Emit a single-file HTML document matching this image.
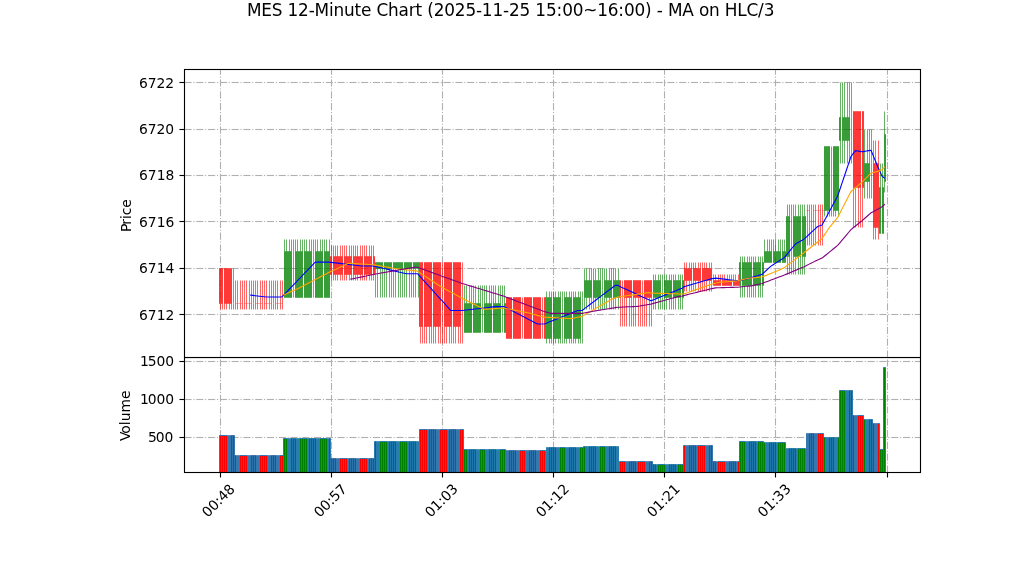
<!DOCTYPE html>
<html lang="en">
<head>
<meta charset="utf-8">
<title>MES 12-Minute Chart</title>
<style>html,body{margin:0;padding:0;background:#fff;}body{width:1022px;height:575px;overflow:hidden;font-family:"DejaVu Sans","Liberation Sans",sans-serif;}svg text{white-space:pre;}</style>
</head>
<body>
<svg width="1022" height="575" viewBox="0 0 1022 575" style="display:block">
<defs><clipPath id="c2"><rect x="184" y="357" width="736" height="115"/></clipPath><clipPath id="c1"><rect x="184" y="69" width="736" height="288"/></clipPath></defs>
<g id="volume-panel">
<path clip-path="url(#c2)" d="M220.5 472.5V357.5M331.5 472.5V357.5M442.5 472.5V357.5M553.5 472.5V357.5M664.5 472.5V357.5M775.5 472.5V357.5M887.5 472.5V357.5M184.5 437.5H920.5M184.5 399.5H920.5M184.5 361.5H920.5" fill="none" stroke="#b0b0b0" stroke-width="1.111" stroke-dasharray="7.111,1.778,1.111,1.778"/><path clip-path="url(#c2)" d="M184.5 436.5H920.5M184.5 438.5H920.5M184.5 398.5H920.5M184.5 400.5H920.5M184.5 360.5H920.5M184.5 362.5H920.5" fill="none" stroke="#b0b0b0" stroke-opacity="0.056" stroke-width="1" stroke-dasharray="7.111,1.778,1.111,1.778"/>
<g clip-path="url(#c2)" stroke="#1f77b4" stroke-width="0.903" stroke-linejoin="miter">
<path d="M219.5 475.5H221.5V435.5H219.5Z" fill="#f00"/><path d="M221.5 475.5H223.5V435.5H221.5Z" fill="#f00"/><path d="M223.5 475.5H225.5V435.5H223.5Z" fill="#f00"/><path d="M225.5 475.5H227.5V435.5H225.5Z" fill="#f00"/><path d="M228.5 475.5H229.5V435.5H228.5Z" fill="#f00"/><path d="M230.5 475.5H232.5V435.5H230.5Z" fill="#f00"/><path d="M232.5 475.5H234.5V435.5H232.5Z" fill="#f00"/><path d="M234.5 475.5H236.5V455.5H234.5Z" fill="#f00"/><path d="M237.5 475.5H238.5V455.5H237.5Z" fill="#f00"/><path d="M239.5 475.5H241.5V455.5H239.5Z" fill="#f00"/><path d="M241.5 475.5H243.5V455.5H241.5Z" fill="#f00"/><path d="M243.5 475.5H245.5V455.5H243.5Z" fill="#f00"/><path d="M245.5 475.5H247.5V455.5H245.5Z" fill="#f00"/><path d="M248.5 475.5H249.5V455.5H248.5Z" fill="#f00"/><path d="M250.5 475.5H252.5V455.5H250.5Z" fill="#f00"/><path d="M252.5 475.5H254.5V455.5H252.5Z" fill="#f00"/><path d="M254.5 475.5H256.5V455.5H254.5Z" fill="#f00"/><path d="M257.5 475.5H258.5V455.5H257.5Z" fill="#f00"/><path d="M259.5 475.5H261.5V455.5H259.5Z" fill="#f00"/><path d="M261.5 475.5H263.5V455.5H261.5Z" fill="#f00"/><path d="M263.5 475.5H265.5V455.5H263.5Z" fill="#f00"/><path d="M265.5 475.5H267.5V455.5H265.5Z" fill="#f00"/><path d="M268.5 475.5H269.5V455.5H268.5Z" fill="#f00"/><path d="M270.5 475.5H272.5V455.5H270.5Z" fill="#f00"/><path d="M272.5 475.5H274.5V455.5H272.5Z" fill="#f00"/><path d="M274.5 475.5H276.5V455.5H274.5Z" fill="#f00"/><path d="M277.5 475.5H278.5V455.5H277.5Z" fill="#f00"/><path d="M279.5 475.5H281.5V455.5H279.5Z" fill="#f00"/><path d="M281.5 475.5H283.5V455.5H281.5Z" fill="#f00"/><path d="M283.5 475.5H285.5V438.5H283.5Z" fill="#008000"/><path d="M285.5 475.5H287.5V438.5H285.5Z" fill="#008000"/><path d="M288.5 475.5H289.5V438.5H288.5Z" fill="#008000"/><path d="M290.5 475.5H292.5V438.5H290.5Z" fill="#008000"/><path d="M292.5 475.5H294.5V438.5H292.5Z" fill="#008000"/><path d="M294.5 475.5H296.5V438.5H294.5Z" fill="#008000"/><path d="M297.5 475.5H298.5V438.5H297.5Z" fill="#008000"/><path d="M299.5 475.5H301.5V438.5H299.5Z" fill="#008000"/><path d="M301.5 475.5H303.5V438.5H301.5Z" fill="#008000"/><path d="M303.5 475.5H305.5V438.5H303.5Z" fill="#008000"/><path d="M305.5 475.5H307.5V438.5H305.5Z" fill="#008000"/><path d="M308.5 475.5H310.5V438.5H308.5Z" fill="#008000"/><path d="M310.5 475.5H312.5V438.5H310.5Z" fill="#008000"/><path d="M312.5 475.5H314.5V438.5H312.5Z" fill="#008000"/><path d="M314.5 475.5H316.5V438.5H314.5Z" fill="#008000"/><path d="M317.5 475.5H318.5V438.5H317.5Z" fill="#008000"/><path d="M319.5 475.5H321.5V438.5H319.5Z" fill="#008000"/><path d="M321.5 475.5H323.5V438.5H321.5Z" fill="#008000"/><path d="M323.5 475.5H325.5V438.5H323.5Z" fill="#008000"/><path d="M325.5 475.5H327.5V438.5H325.5Z" fill="#008000"/><path d="M328.5 475.5H330.5V438.5H328.5Z" fill="#008000"/><path d="M330.5 475.5H332.5V458.5H330.5Z" fill="#f00"/><path d="M332.5 475.5H334.5V458.5H332.5Z" fill="#f00"/><path d="M334.5 475.5H336.5V458.5H334.5Z" fill="#f00"/><path d="M337.5 475.5H338.5V458.5H337.5Z" fill="#f00"/><path d="M339.5 475.5H341.5V458.5H339.5Z" fill="#f00"/><path d="M341.5 475.5H343.5V458.5H341.5Z" fill="#f00"/><path d="M343.5 475.5H345.5V458.5H343.5Z" fill="#f00"/><path d="M345.5 475.5H347.5V458.5H345.5Z" fill="#f00"/><path d="M348.5 475.5H350.5V458.5H348.5Z" fill="#f00"/><path d="M350.5 475.5H352.5V458.5H350.5Z" fill="#f00"/><path d="M352.5 475.5H354.5V458.5H352.5Z" fill="#f00"/><path d="M354.5 475.5H356.5V458.5H354.5Z" fill="#f00"/><path d="M357.5 475.5H358.5V458.5H357.5Z" fill="#f00"/><path d="M359.5 475.5H361.5V458.5H359.5Z" fill="#f00"/><path d="M361.5 475.5H363.5V458.5H361.5Z" fill="#f00"/><path d="M363.5 475.5H365.5V458.5H363.5Z" fill="#f00"/><path d="M365.5 475.5H367.5V458.5H365.5Z" fill="#f00"/><path d="M368.5 475.5H370.5V458.5H368.5Z" fill="#f00"/><path d="M370.5 475.5H372.5V458.5H370.5Z" fill="#f00"/><path d="M372.5 475.5H374.5V458.5H372.5Z" fill="#f00"/><path d="M374.5 475.5H376.5V441.5H374.5Z" fill="#008000"/><path d="M377.5 475.5H378.5V441.5H377.5Z" fill="#008000"/><path d="M379.5 475.5H381.5V441.5H379.5Z" fill="#008000"/><path d="M381.5 475.5H383.5V441.5H381.5Z" fill="#008000"/><path d="M383.5 475.5H385.5V441.5H383.5Z" fill="#008000"/><path d="M385.5 475.5H387.5V441.5H385.5Z" fill="#008000"/><path d="M388.5 475.5H390.5V441.5H388.5Z" fill="#008000"/><path d="M390.5 475.5H392.5V441.5H390.5Z" fill="#008000"/><path d="M392.5 475.5H394.5V441.5H392.5Z" fill="#008000"/><path d="M394.5 475.5H396.5V441.5H394.5Z" fill="#008000"/><path d="M397.5 475.5H398.5V441.5H397.5Z" fill="#008000"/><path d="M399.5 475.5H401.5V441.5H399.5Z" fill="#008000"/><path d="M401.5 475.5H403.5V441.5H401.5Z" fill="#008000"/><path d="M403.5 475.5H405.5V441.5H403.5Z" fill="#008000"/><path d="M405.5 475.5H407.5V441.5H405.5Z" fill="#008000"/><path d="M408.5 475.5H410.5V441.5H408.5Z" fill="#008000"/><path d="M410.5 475.5H412.5V441.5H410.5Z" fill="#008000"/><path d="M412.5 475.5H414.5V441.5H412.5Z" fill="#008000"/><path d="M414.5 475.5H416.5V441.5H414.5Z" fill="#008000"/><path d="M417.5 475.5H418.5V441.5H417.5Z" fill="#008000"/><path d="M419.5 475.5H421.5V429.5H419.5Z" fill="#f00"/><path d="M421.5 475.5H423.5V429.5H421.5Z" fill="#f00"/><path d="M423.5 475.5H425.5V429.5H423.5Z" fill="#f00"/><path d="M425.5 475.5H427.5V429.5H425.5Z" fill="#f00"/><path d="M428.5 475.5H430.5V429.5H428.5Z" fill="#f00"/><path d="M430.5 475.5H432.5V429.5H430.5Z" fill="#f00"/><path d="M432.5 475.5H434.5V429.5H432.5Z" fill="#f00"/><path d="M434.5 475.5H436.5V429.5H434.5Z" fill="#f00"/><path d="M437.5 475.5H438.5V429.5H437.5Z" fill="#f00"/><path d="M439.5 475.5H441.5V429.5H439.5Z" fill="#f00"/><path d="M441.5 475.5H443.5V429.5H441.5Z" fill="#f00"/><path d="M443.5 475.5H445.5V429.5H443.5Z" fill="#f00"/><path d="M445.5 475.5H447.5V429.5H445.5Z" fill="#f00"/><path d="M448.5 475.5H450.5V429.5H448.5Z" fill="#f00"/><path d="M450.5 475.5H452.5V429.5H450.5Z" fill="#f00"/><path d="M452.5 475.5H454.5V429.5H452.5Z" fill="#f00"/><path d="M454.5 475.5H456.5V429.5H454.5Z" fill="#f00"/><path d="M457.5 475.5H458.5V429.5H457.5Z" fill="#f00"/><path d="M459.5 475.5H461.5V429.5H459.5Z" fill="#f00"/><path d="M461.5 475.5H463.5V429.5H461.5Z" fill="#f00"/><path d="M463.5 475.5H465.5V449.5H463.5Z" fill="#008000"/><path d="M465.5 475.5H467.5V449.5H465.5Z" fill="#008000"/><path d="M468.5 475.5H470.5V449.5H468.5Z" fill="#008000"/><path d="M470.5 475.5H472.5V449.5H470.5Z" fill="#008000"/><path d="M472.5 475.5H474.5V449.5H472.5Z" fill="#008000"/><path d="M474.5 475.5H476.5V449.5H474.5Z" fill="#008000"/><path d="M477.5 475.5H478.5V449.5H477.5Z" fill="#008000"/><path d="M479.5 475.5H481.5V449.5H479.5Z" fill="#008000"/><path d="M481.5 475.5H483.5V449.5H481.5Z" fill="#008000"/><path d="M483.5 475.5H485.5V449.5H483.5Z" fill="#008000"/><path d="M486.5 475.5H487.5V449.5H486.5Z" fill="#008000"/><path d="M488.5 475.5H490.5V449.5H488.5Z" fill="#008000"/><path d="M490.5 475.5H492.5V449.5H490.5Z" fill="#008000"/><path d="M492.5 475.5H494.5V449.5H492.5Z" fill="#008000"/><path d="M494.5 475.5H496.5V449.5H494.5Z" fill="#008000"/><path d="M497.5 475.5H498.5V449.5H497.5Z" fill="#008000"/><path d="M499.5 475.5H501.5V449.5H499.5Z" fill="#008000"/><path d="M501.5 475.5H503.5V449.5H501.5Z" fill="#008000"/><path d="M503.5 475.5H505.5V449.5H503.5Z" fill="#008000"/><path d="M506.5 475.5H507.5V450.5H506.5Z" fill="#f00"/><path d="M508.5 475.5H510.5V450.5H508.5Z" fill="#f00"/><path d="M510.5 475.5H512.5V450.5H510.5Z" fill="#f00"/><path d="M512.5 475.5H514.5V450.5H512.5Z" fill="#f00"/><path d="M514.5 475.5H516.5V450.5H514.5Z" fill="#f00"/><path d="M517.5 475.5H518.5V450.5H517.5Z" fill="#f00"/><path d="M519.5 475.5H521.5V450.5H519.5Z" fill="#f00"/><path d="M521.5 475.5H523.5V450.5H521.5Z" fill="#f00"/><path d="M523.5 475.5H525.5V450.5H523.5Z" fill="#f00"/><path d="M526.5 475.5H527.5V450.5H526.5Z" fill="#f00"/><path d="M528.5 475.5H530.5V450.5H528.5Z" fill="#f00"/><path d="M530.5 475.5H532.5V450.5H530.5Z" fill="#f00"/><path d="M532.5 475.5H534.5V450.5H532.5Z" fill="#f00"/><path d="M534.5 475.5H536.5V450.5H534.5Z" fill="#f00"/><path d="M537.5 475.5H538.5V450.5H537.5Z" fill="#f00"/><path d="M539.5 475.5H541.5V450.5H539.5Z" fill="#f00"/><path d="M541.5 475.5H543.5V450.5H541.5Z" fill="#f00"/><path d="M543.5 475.5H545.5V450.5H543.5Z" fill="#f00"/><path d="M546.5 475.5H547.5V447.5H546.5Z" fill="#008000"/><path d="M548.5 475.5H550.5V447.5H548.5Z" fill="#008000"/><path d="M550.5 475.5H552.5V447.5H550.5Z" fill="#008000"/><path d="M552.5 475.5H554.5V447.5H552.5Z" fill="#008000"/><path d="M554.5 475.5H556.5V447.5H554.5Z" fill="#008000"/><path d="M557.5 475.5H558.5V447.5H557.5Z" fill="#008000"/><path d="M559.5 475.5H561.5V447.5H559.5Z" fill="#008000"/><path d="M561.5 475.5H563.5V447.5H561.5Z" fill="#008000"/><path d="M563.5 475.5H565.5V447.5H563.5Z" fill="#008000"/><path d="M566.5 475.5H567.5V447.5H566.5Z" fill="#008000"/><path d="M568.5 475.5H570.5V447.5H568.5Z" fill="#008000"/><path d="M570.5 475.5H572.5V447.5H570.5Z" fill="#008000"/><path d="M572.5 475.5H574.5V447.5H572.5Z" fill="#008000"/><path d="M574.5 475.5H576.5V447.5H574.5Z" fill="#008000"/><path d="M577.5 475.5H578.5V447.5H577.5Z" fill="#008000"/><path d="M579.5 475.5H581.5V447.5H579.5Z" fill="#008000"/><path d="M581.5 475.5H583.5V447.5H581.5Z" fill="#008000"/><path d="M583.5 475.5H585.5V446.5H583.5Z" fill="#008000"/><path d="M586.5 475.5H587.5V446.5H586.5Z" fill="#008000"/><path d="M588.5 475.5H590.5V446.5H588.5Z" fill="#008000"/><path d="M590.5 475.5H592.5V446.5H590.5Z" fill="#008000"/><path d="M592.5 475.5H594.5V446.5H592.5Z" fill="#008000"/><path d="M594.5 475.5H596.5V446.5H594.5Z" fill="#008000"/><path d="M597.5 475.5H598.5V446.5H597.5Z" fill="#008000"/><path d="M599.5 475.5H601.5V446.5H599.5Z" fill="#008000"/><path d="M601.5 475.5H603.5V446.5H601.5Z" fill="#008000"/><path d="M603.5 475.5H605.5V446.5H603.5Z" fill="#008000"/><path d="M606.5 475.5H607.5V446.5H606.5Z" fill="#008000"/><path d="M608.5 475.5H610.5V446.5H608.5Z" fill="#008000"/><path d="M610.5 475.5H612.5V446.5H610.5Z" fill="#008000"/><path d="M612.5 475.5H614.5V446.5H612.5Z" fill="#008000"/><path d="M614.5 475.5H616.5V446.5H614.5Z" fill="#008000"/><path d="M617.5 475.5H618.5V446.5H617.5Z" fill="#008000"/><path d="M619.5 475.5H621.5V461.5H619.5Z" fill="#f00"/><path d="M621.5 475.5H623.5V461.5H621.5Z" fill="#f00"/><path d="M623.5 475.5H625.5V461.5H623.5Z" fill="#f00"/><path d="M626.5 475.5H627.5V461.5H626.5Z" fill="#f00"/><path d="M628.5 475.5H630.5V461.5H628.5Z" fill="#f00"/><path d="M630.5 475.5H632.5V461.5H630.5Z" fill="#f00"/><path d="M632.5 475.5H634.5V461.5H632.5Z" fill="#f00"/><path d="M634.5 475.5H636.5V461.5H634.5Z" fill="#f00"/><path d="M637.5 475.5H639.5V461.5H637.5Z" fill="#f00"/><path d="M639.5 475.5H641.5V461.5H639.5Z" fill="#f00"/><path d="M641.5 475.5H643.5V461.5H641.5Z" fill="#f00"/><path d="M643.5 475.5H645.5V461.5H643.5Z" fill="#f00"/><path d="M646.5 475.5H647.5V461.5H646.5Z" fill="#f00"/><path d="M648.5 475.5H650.5V461.5H648.5Z" fill="#f00"/><path d="M650.5 475.5H652.5V461.5H650.5Z" fill="#f00"/><path d="M652.5 475.5H654.5V464.5H652.5Z" fill="#008000"/><path d="M654.5 475.5H656.5V464.5H654.5Z" fill="#008000"/><path d="M657.5 475.5H659.5V464.5H657.5Z" fill="#008000"/><path d="M659.5 475.5H661.5V464.5H659.5Z" fill="#008000"/><path d="M661.5 475.5H663.5V464.5H661.5Z" fill="#008000"/><path d="M663.5 475.5H665.5V464.5H663.5Z" fill="#008000"/><path d="M666.5 475.5H667.5V464.5H666.5Z" fill="#008000"/><path d="M668.5 475.5H670.5V464.5H668.5Z" fill="#008000"/><path d="M670.5 475.5H672.5V464.5H670.5Z" fill="#008000"/><path d="M672.5 475.5H674.5V464.5H672.5Z" fill="#008000"/><path d="M674.5 475.5H676.5V464.5H674.5Z" fill="#008000"/><path d="M677.5 475.5H679.5V464.5H677.5Z" fill="#008000"/><path d="M679.5 475.5H681.5V464.5H679.5Z" fill="#008000"/><path d="M681.5 475.5H683.5V464.5H681.5Z" fill="#008000"/><path d="M683.5 475.5H685.5V445.5H683.5Z" fill="#f00"/><path d="M686.5 475.5H687.5V445.5H686.5Z" fill="#f00"/><path d="M688.5 475.5H690.5V445.5H688.5Z" fill="#f00"/><path d="M690.5 475.5H692.5V445.5H690.5Z" fill="#f00"/><path d="M692.5 475.5H694.5V445.5H692.5Z" fill="#f00"/><path d="M694.5 475.5H696.5V445.5H694.5Z" fill="#f00"/><path d="M697.5 475.5H699.5V445.5H697.5Z" fill="#f00"/><path d="M699.5 475.5H701.5V445.5H699.5Z" fill="#f00"/><path d="M701.5 475.5H703.5V445.5H701.5Z" fill="#f00"/><path d="M703.5 475.5H705.5V445.5H703.5Z" fill="#f00"/><path d="M706.5 475.5H707.5V445.5H706.5Z" fill="#f00"/><path d="M708.5 475.5H710.5V445.5H708.5Z" fill="#f00"/><path d="M710.5 475.5H712.5V445.5H710.5Z" fill="#f00"/><path d="M712.5 475.5H714.5V461.5H712.5Z" fill="#f00"/><path d="M714.5 475.5H716.5V461.5H714.5Z" fill="#f00"/><path d="M717.5 475.5H719.5V461.5H717.5Z" fill="#f00"/><path d="M719.5 475.5H721.5V461.5H719.5Z" fill="#f00"/><path d="M721.5 475.5H723.5V461.5H721.5Z" fill="#f00"/><path d="M723.5 475.5H725.5V461.5H723.5Z" fill="#f00"/><path d="M726.5 475.5H727.5V461.5H726.5Z" fill="#f00"/><path d="M728.5 475.5H730.5V461.5H728.5Z" fill="#f00"/><path d="M730.5 475.5H732.5V461.5H730.5Z" fill="#f00"/><path d="M732.5 475.5H734.5V461.5H732.5Z" fill="#f00"/><path d="M734.5 475.5H736.5V461.5H734.5Z" fill="#f00"/><path d="M737.5 475.5H739.5V461.5H737.5Z" fill="#f00"/><path d="M739.5 475.5H741.5V441.5H739.5Z" fill="#008000"/><path d="M741.5 475.5H743.5V441.5H741.5Z" fill="#008000"/><path d="M743.5 475.5H745.5V441.5H743.5Z" fill="#008000"/><path d="M746.5 475.5H747.5V441.5H746.5Z" fill="#008000"/><path d="M748.5 475.5H750.5V441.5H748.5Z" fill="#008000"/><path d="M750.5 475.5H752.5V441.5H750.5Z" fill="#008000"/><path d="M752.5 475.5H754.5V441.5H752.5Z" fill="#008000"/><path d="M754.5 475.5H756.5V441.5H754.5Z" fill="#008000"/><path d="M757.5 475.5H759.5V441.5H757.5Z" fill="#008000"/><path d="M759.5 475.5H761.5V441.5H759.5Z" fill="#008000"/><path d="M761.5 475.5H763.5V441.5H761.5Z" fill="#008000"/><path d="M763.5 475.5H765.5V442.5H763.5Z" fill="#008000"/><path d="M766.5 475.5H767.5V442.5H766.5Z" fill="#008000"/><path d="M768.5 475.5H770.5V442.5H768.5Z" fill="#008000"/><path d="M770.5 475.5H772.5V442.5H770.5Z" fill="#008000"/><path d="M772.5 475.5H774.5V442.5H772.5Z" fill="#008000"/><path d="M774.5 475.5H776.5V442.5H774.5Z" fill="#008000"/><path d="M777.5 475.5H779.5V442.5H777.5Z" fill="#008000"/><path d="M779.5 475.5H781.5V442.5H779.5Z" fill="#008000"/><path d="M781.5 475.5H783.5V442.5H781.5Z" fill="#008000"/><path d="M783.5 475.5H785.5V442.5H783.5Z" fill="#008000"/><path d="M786.5 475.5H787.5V448.5H786.5Z" fill="#008000"/><path d="M788.5 475.5H790.5V448.5H788.5Z" fill="#008000"/><path d="M790.5 475.5H792.5V448.5H790.5Z" fill="#008000"/><path d="M792.5 475.5H794.5V448.5H792.5Z" fill="#008000"/><path d="M794.5 475.5H796.5V448.5H794.5Z" fill="#008000"/><path d="M797.5 475.5H799.5V448.5H797.5Z" fill="#008000"/><path d="M799.5 475.5H801.5V448.5H799.5Z" fill="#008000"/><path d="M801.5 475.5H803.5V448.5H801.5Z" fill="#008000"/><path d="M803.5 475.5H805.5V448.5H803.5Z" fill="#008000"/><path d="M806.5 475.5H807.5V433.5H806.5Z" fill="#f00"/><path d="M808.5 475.5H810.5V433.5H808.5Z" fill="#f00"/><path d="M810.5 475.5H812.5V433.5H810.5Z" fill="#f00"/><path d="M812.5 475.5H814.5V433.5H812.5Z" fill="#f00"/><path d="M815.5 475.5H816.5V433.5H815.5Z" fill="#f00"/><path d="M817.5 475.5H819.5V433.5H817.5Z" fill="#f00"/><path d="M819.5 475.5H821.5V433.5H819.5Z" fill="#f00"/><path d="M821.5 475.5H823.5V433.5H821.5Z" fill="#f00"/><path d="M823.5 475.5H825.5V437.5H823.5Z" fill="#008000"/><path d="M826.5 475.5H827.5V437.5H826.5Z" fill="#008000"/><path d="M828.5 475.5H830.5V437.5H828.5Z" fill="#008000"/><path d="M830.5 475.5H832.5V437.5H830.5Z" fill="#008000"/><path d="M832.5 475.5H834.5V437.5H832.5Z" fill="#008000"/><path d="M835.5 475.5H836.5V437.5H835.5Z" fill="#008000"/><path d="M837.5 475.5H839.5V437.5H837.5Z" fill="#008000"/><path d="M839.5 475.5H841.5V390.5H839.5Z" fill="#008000"/><path d="M841.5 475.5H843.5V390.5H841.5Z" fill="#008000"/><path d="M843.5 475.5H845.5V390.5H843.5Z" fill="#008000"/><path d="M846.5 475.5H847.5V390.5H846.5Z" fill="#008000"/><path d="M848.5 475.5H850.5V390.5H848.5Z" fill="#008000"/><path d="M850.5 475.5H852.5V390.5H850.5Z" fill="#008000"/><path d="M852.5 475.5H854.5V415.5H852.5Z" fill="#f00"/><path d="M855.5 475.5H856.5V415.5H855.5Z" fill="#f00"/><path d="M857.5 475.5H859.5V415.5H857.5Z" fill="#f00"/><path d="M859.5 475.5H861.5V415.5H859.5Z" fill="#f00"/><path d="M861.5 475.5H863.5V415.5H861.5Z" fill="#f00"/><path d="M863.5 475.5H865.5V419.5H863.5Z" fill="#008000"/><path d="M866.5 475.5H867.5V419.5H866.5Z" fill="#008000"/><path d="M868.5 475.5H870.5V419.5H868.5Z" fill="#008000"/><path d="M870.5 475.5H872.5V419.5H870.5Z" fill="#008000"/><path d="M872.5 475.5H874.5V423.5H872.5Z" fill="#f00"/><path d="M875.5 475.5H876.5V423.5H875.5Z" fill="#f00"/><path d="M877.5 475.5H879.5V423.5H877.5Z" fill="#f00"/><path d="M879.5 475.5H881.5V449.5H879.5Z" fill="#008000"/><path d="M881.5 475.5H883.5V449.5H881.5Z" fill="#008000"/><path d="M883.5 475.5H885.5V367.5H883.5Z" fill="#008000"/>
</g>
<path d="M220.5 472.5V477.5M331.5 472.5V477.5M442.5 472.5V477.5M553.5 472.5V477.5M664.5 472.5V477.5M775.5 472.5V477.5M887.5 472.5V477.5M184.5 437.5H179.5M184.5 399.5H179.5M184.5 361.5H179.5" fill="none" stroke="#000" stroke-width="1.111"/><path d="M184.5 436.5H179.5M184.5 438.5H179.5M184.5 398.5H179.5M184.5 400.5H179.5M184.5 360.5H179.5M184.5 362.5H179.5" fill="none" stroke="#000" stroke-opacity="0.056" stroke-width="1"/>
<path d="M184.5 472.5V357.5M920.5 472.5V357.5M184.5 472.5H920.5M184.5 357.5H920.5" fill="none" stroke="#000" stroke-width="1.111" stroke-linecap="square"/><path d="M183.944 471.5H921.056M183.944 473.5H921.056M183.944 358.5H921.056" fill="none" stroke="#000" stroke-opacity="0.056" stroke-width="1"/>
</g>
<g id="price-panel">
<path clip-path="url(#c1)" d="M220.5 357.5V69.5M331.5 357.5V69.5M442.5 357.5V69.5M553.5 357.5V69.5M664.5 357.5V69.5M775.5 357.5V69.5M887.5 357.5V69.5M184.5 314.5H920.5M184.5 268.5H920.5M184.5 221.5H920.5M184.5 175.5H920.5M184.5 129.5H920.5M184.5 82.5H920.5" fill="none" stroke="#b0b0b0" stroke-width="1.111" stroke-dasharray="7.111,1.778,1.111,1.778"/><path clip-path="url(#c1)" d="M184.5 313.5H920.5M184.5 315.5H920.5M184.5 267.5H920.5M184.5 269.5H920.5M184.5 220.5H920.5M184.5 222.5H920.5M184.5 174.5H920.5M184.5 176.5H920.5M184.5 128.5H920.5M184.5 130.5H920.5M184.5 81.5H920.5M184.5 83.5H920.5" fill="none" stroke="#b0b0b0" stroke-opacity="0.056" stroke-width="1" stroke-dasharray="7.111,1.778,1.111,1.778"/>
<g clip-path="url(#c1)">
<g fill="none" stroke-width="0.604">
<path d="M220.5 309.5V303.5" stroke="#f00"/>
<path d="M222.5 309.5V303.5" stroke="#f00"/>
<path d="M224.5 309.5V303.5" stroke="#f00"/>
<path d="M226.5 309.5V303.5" stroke="#f00"/>
<path d="M229.5 309.5V303.5" stroke="#f00"/>
<path d="M231.5 309.5V303.5" stroke="#f00"/>
<path d="M233.5 309.5V303.5" stroke="#f00"/>
<path d="M235.5 309.5V303.5" stroke="#f00"/>
<path d="M237.5 309.5V303.5" stroke="#f00"/>
<path d="M240.5 309.5V303.5" stroke="#f00"/>
<path d="M242.5 309.5V303.5" stroke="#f00"/>
<path d="M244.5 309.5V303.5" stroke="#f00"/>
<path d="M246.5 309.5V303.5" stroke="#f00"/>
<path d="M249.5 309.5V303.5" stroke="#f00"/>
<path d="M251.5 309.5V303.5" stroke="#f00"/>
<path d="M253.5 309.5V303.5" stroke="#f00"/>
<path d="M255.5 309.5V303.5" stroke="#f00"/>
<path d="M257.5 309.5V303.5" stroke="#f00"/>
<path d="M260.5 309.5V303.5" stroke="#f00"/>
<path d="M262.5 309.5V303.5" stroke="#f00"/>
<path d="M264.5 309.5V303.5" stroke="#f00"/>
<path d="M266.5 309.5V303.5" stroke="#f00"/>
<path d="M269.5 309.5V303.5" stroke="#f00"/>
<path d="M271.5 309.5V303.5" stroke="#f00"/>
<path d="M273.5 309.5V303.5" stroke="#f00"/>
<path d="M275.5 309.5V303.5" stroke="#f00"/>
<path d="M277.5 309.5V303.5" stroke="#f00"/>
<path d="M280.5 309.5V303.5" stroke="#f00"/>
<path d="M282.5 309.5V303.5" stroke="#f00"/>
<path d="M331.5 280.5V274.5" stroke="#f00"/>
<path d="M333.5 280.5V274.5" stroke="#f00"/>
<path d="M335.5 280.5V274.5" stroke="#f00"/>
<path d="M337.5 280.5V274.5" stroke="#f00"/>
<path d="M340.5 280.5V274.5" stroke="#f00"/>
<path d="M342.5 280.5V274.5" stroke="#f00"/>
<path d="M344.5 280.5V274.5" stroke="#f00"/>
<path d="M346.5 280.5V274.5" stroke="#f00"/>
<path d="M349.5 280.5V274.5" stroke="#f00"/>
<path d="M351.5 280.5V274.5" stroke="#f00"/>
<path d="M353.5 280.5V274.5" stroke="#f00"/>
<path d="M355.5 280.5V274.5" stroke="#f00"/>
<path d="M357.5 280.5V274.5" stroke="#f00"/>
<path d="M360.5 280.5V274.5" stroke="#f00"/>
<path d="M362.5 280.5V274.5" stroke="#f00"/>
<path d="M364.5 280.5V274.5" stroke="#f00"/>
<path d="M366.5 280.5V274.5" stroke="#f00"/>
<path d="M369.5 280.5V274.5" stroke="#f00"/>
<path d="M371.5 280.5V274.5" stroke="#f00"/>
<path d="M373.5 280.5V274.5" stroke="#f00"/>
<path d="M375.5 297.5V268.5" stroke="#008000"/>
<path d="M377.5 297.5V268.5" stroke="#008000"/>
<path d="M380.5 297.5V268.5" stroke="#008000"/>
<path d="M382.5 297.5V268.5" stroke="#008000"/>
<path d="M384.5 297.5V268.5" stroke="#008000"/>
<path d="M386.5 297.5V268.5" stroke="#008000"/>
<path d="M389.5 297.5V268.5" stroke="#008000"/>
<path d="M391.5 297.5V268.5" stroke="#008000"/>
<path d="M393.5 297.5V268.5" stroke="#008000"/>
<path d="M395.5 297.5V268.5" stroke="#008000"/>
<path d="M398.5 297.5V268.5" stroke="#008000"/>
<path d="M400.5 297.5V268.5" stroke="#008000"/>
<path d="M402.5 297.5V268.5" stroke="#008000"/>
<path d="M404.5 297.5V268.5" stroke="#008000"/>
<path d="M406.5 297.5V268.5" stroke="#008000"/>
<path d="M409.5 297.5V268.5" stroke="#008000"/>
<path d="M411.5 297.5V268.5" stroke="#008000"/>
<path d="M413.5 297.5V268.5" stroke="#008000"/>
<path d="M415.5 297.5V268.5" stroke="#008000"/>
<path d="M418.5 297.5V268.5" stroke="#008000"/>
<path d="M420.5 343.5V326.5" stroke="#f00"/>
<path d="M422.5 343.5V326.5" stroke="#f00"/>
<path d="M424.5 343.5V326.5" stroke="#f00"/>
<path d="M426.5 343.5V326.5" stroke="#f00"/>
<path d="M429.5 343.5V326.5" stroke="#f00"/>
<path d="M431.5 343.5V326.5" stroke="#f00"/>
<path d="M433.5 343.5V326.5" stroke="#f00"/>
<path d="M435.5 343.5V326.5" stroke="#f00"/>
<path d="M438.5 343.5V326.5" stroke="#f00"/>
<path d="M440.5 343.5V326.5" stroke="#f00"/>
<path d="M442.5 343.5V326.5" stroke="#f00"/>
<path d="M444.5 343.5V326.5" stroke="#f00"/>
<path d="M446.5 343.5V326.5" stroke="#f00"/>
<path d="M449.5 343.5V326.5" stroke="#f00"/>
<path d="M451.5 343.5V326.5" stroke="#f00"/>
<path d="M453.5 343.5V326.5" stroke="#f00"/>
<path d="M455.5 343.5V326.5" stroke="#f00"/>
<path d="M458.5 343.5V326.5" stroke="#f00"/>
<path d="M460.5 343.5V326.5" stroke="#f00"/>
<path d="M462.5 343.5V326.5" stroke="#f00"/>
<path d="M546.5 343.5V338.5" stroke="#008000"/>
<path d="M549.5 343.5V338.5" stroke="#008000"/>
<path d="M551.5 343.5V338.5" stroke="#008000"/>
<path d="M553.5 343.5V338.5" stroke="#008000"/>
<path d="M555.5 343.5V338.5" stroke="#008000"/>
<path d="M558.5 343.5V338.5" stroke="#008000"/>
<path d="M560.5 343.5V338.5" stroke="#008000"/>
<path d="M562.5 343.5V338.5" stroke="#008000"/>
<path d="M564.5 343.5V338.5" stroke="#008000"/>
<path d="M566.5 343.5V338.5" stroke="#008000"/>
<path d="M569.5 343.5V338.5" stroke="#008000"/>
<path d="M571.5 343.5V338.5" stroke="#008000"/>
<path d="M573.5 343.5V338.5" stroke="#008000"/>
<path d="M575.5 343.5V338.5" stroke="#008000"/>
<path d="M578.5 343.5V338.5" stroke="#008000"/>
<path d="M580.5 343.5V338.5" stroke="#008000"/>
<path d="M582.5 343.5V338.5" stroke="#008000"/>
<path d="M584.5 309.5V297.5" stroke="#008000"/>
<path d="M586.5 309.5V297.5" stroke="#008000"/>
<path d="M589.5 309.5V297.5" stroke="#008000"/>
<path d="M591.5 309.5V297.5" stroke="#008000"/>
<path d="M593.5 309.5V297.5" stroke="#008000"/>
<path d="M595.5 309.5V297.5" stroke="#008000"/>
<path d="M598.5 309.5V297.5" stroke="#008000"/>
<path d="M600.5 309.5V297.5" stroke="#008000"/>
<path d="M602.5 309.5V297.5" stroke="#008000"/>
<path d="M604.5 309.5V297.5" stroke="#008000"/>
<path d="M606.5 309.5V297.5" stroke="#008000"/>
<path d="M609.5 309.5V297.5" stroke="#008000"/>
<path d="M611.5 309.5V297.5" stroke="#008000"/>
<path d="M613.5 309.5V297.5" stroke="#008000"/>
<path d="M615.5 309.5V297.5" stroke="#008000"/>
<path d="M618.5 309.5V297.5" stroke="#008000"/>
<path d="M620.5 326.5V297.5" stroke="#f00"/>
<path d="M622.5 326.5V297.5" stroke="#f00"/>
<path d="M624.5 326.5V297.5" stroke="#f00"/>
<path d="M626.5 326.5V297.5" stroke="#f00"/>
<path d="M629.5 326.5V297.5" stroke="#f00"/>
<path d="M631.5 326.5V297.5" stroke="#f00"/>
<path d="M633.5 326.5V297.5" stroke="#f00"/>
<path d="M635.5 326.5V297.5" stroke="#f00"/>
<path d="M638.5 326.5V297.5" stroke="#f00"/>
<path d="M640.5 326.5V297.5" stroke="#f00"/>
<path d="M642.5 326.5V297.5" stroke="#f00"/>
<path d="M644.5 326.5V297.5" stroke="#f00"/>
<path d="M646.5 326.5V297.5" stroke="#f00"/>
<path d="M649.5 326.5V297.5" stroke="#f00"/>
<path d="M651.5 326.5V297.5" stroke="#f00"/>
<path d="M653.5 309.5V297.5" stroke="#008000"/>
<path d="M655.5 309.5V297.5" stroke="#008000"/>
<path d="M658.5 309.5V297.5" stroke="#008000"/>
<path d="M660.5 309.5V297.5" stroke="#008000"/>
<path d="M662.5 309.5V297.5" stroke="#008000"/>
<path d="M664.5 309.5V297.5" stroke="#008000"/>
<path d="M666.5 309.5V297.5" stroke="#008000"/>
<path d="M669.5 309.5V297.5" stroke="#008000"/>
<path d="M671.5 309.5V297.5" stroke="#008000"/>
<path d="M673.5 309.5V297.5" stroke="#008000"/>
<path d="M675.5 309.5V297.5" stroke="#008000"/>
<path d="M678.5 309.5V297.5" stroke="#008000"/>
<path d="M680.5 309.5V297.5" stroke="#008000"/>
<path d="M682.5 309.5V297.5" stroke="#008000"/>
<path d="M684.5 291.5V280.5" stroke="#f00"/>
<path d="M686.5 291.5V280.5" stroke="#f00"/>
<path d="M689.5 291.5V280.5" stroke="#f00"/>
<path d="M691.5 291.5V280.5" stroke="#f00"/>
<path d="M693.5 291.5V280.5" stroke="#f00"/>
<path d="M695.5 291.5V280.5" stroke="#f00"/>
<path d="M698.5 291.5V280.5" stroke="#f00"/>
<path d="M700.5 291.5V280.5" stroke="#f00"/>
<path d="M702.5 291.5V280.5" stroke="#f00"/>
<path d="M704.5 291.5V280.5" stroke="#f00"/>
<path d="M706.5 291.5V280.5" stroke="#f00"/>
<path d="M709.5 291.5V280.5" stroke="#f00"/>
<path d="M711.5 291.5V280.5" stroke="#f00"/>
<path d="M740.5 297.5V285.5" stroke="#008000"/>
<path d="M742.5 297.5V285.5" stroke="#008000"/>
<path d="M744.5 297.5V285.5" stroke="#008000"/>
<path d="M747.5 297.5V285.5" stroke="#008000"/>
<path d="M749.5 297.5V285.5" stroke="#008000"/>
<path d="M751.5 297.5V285.5" stroke="#008000"/>
<path d="M753.5 297.5V285.5" stroke="#008000"/>
<path d="M755.5 297.5V285.5" stroke="#008000"/>
<path d="M758.5 297.5V285.5" stroke="#008000"/>
<path d="M760.5 297.5V285.5" stroke="#008000"/>
<path d="M762.5 297.5V285.5" stroke="#008000"/>
<path d="M787.5 274.5V256.5" stroke="#008000"/>
<path d="M789.5 274.5V256.5" stroke="#008000"/>
<path d="M791.5 274.5V256.5" stroke="#008000"/>
<path d="M793.5 274.5V256.5" stroke="#008000"/>
<path d="M795.5 274.5V256.5" stroke="#008000"/>
<path d="M798.5 274.5V256.5" stroke="#008000"/>
<path d="M800.5 274.5V256.5" stroke="#008000"/>
<path d="M802.5 274.5V256.5" stroke="#008000"/>
<path d="M804.5 274.5V256.5" stroke="#008000"/>
<path d="M807.5 245.5V210.5" stroke="#f00"/>
<path d="M809.5 245.5V210.5" stroke="#f00"/>
<path d="M811.5 245.5V210.5" stroke="#f00"/>
<path d="M813.5 245.5V210.5" stroke="#f00"/>
<path d="M815.5 245.5V210.5" stroke="#f00"/>
<path d="M818.5 245.5V210.5" stroke="#f00"/>
<path d="M820.5 245.5V210.5" stroke="#f00"/>
<path d="M822.5 245.5V210.5" stroke="#f00"/>
<path d="M824.5 216.5V210.5" stroke="#008000"/>
<path d="M827.5 216.5V210.5" stroke="#008000"/>
<path d="M829.5 216.5V210.5" stroke="#008000"/>
<path d="M831.5 216.5V210.5" stroke="#008000"/>
<path d="M833.5 216.5V210.5" stroke="#008000"/>
<path d="M835.5 216.5V210.5" stroke="#008000"/>
<path d="M838.5 216.5V210.5" stroke="#008000"/>
<path d="M840.5 163.5V140.5" stroke="#008000"/>
<path d="M842.5 163.5V140.5" stroke="#008000"/>
<path d="M844.5 163.5V140.5" stroke="#008000"/>
<path d="M847.5 163.5V140.5" stroke="#008000"/>
<path d="M849.5 163.5V140.5" stroke="#008000"/>
<path d="M851.5 163.5V140.5" stroke="#008000"/>
<path d="M853.5 227.5V187.5" stroke="#f00"/>
<path d="M855.5 227.5V187.5" stroke="#f00"/>
<path d="M858.5 227.5V187.5" stroke="#f00"/>
<path d="M860.5 227.5V187.5" stroke="#f00"/>
<path d="M862.5 227.5V187.5" stroke="#f00"/>
<path d="M864.5 198.5V181.5" stroke="#008000"/>
<path d="M867.5 198.5V181.5" stroke="#008000"/>
<path d="M869.5 198.5V181.5" stroke="#008000"/>
<path d="M871.5 198.5V181.5" stroke="#008000"/>
<path d="M873.5 239.5V227.5" stroke="#f00"/>
<path d="M875.5 239.5V227.5" stroke="#f00"/>
<path d="M878.5 239.5V227.5" stroke="#f00"/>
<path d="M884.5 192.5V181.5" stroke="#008000"/>
<path d="M235.5 280.5V303.5" stroke="#f00"/>
<path d="M237.5 280.5V303.5" stroke="#f00"/>
<path d="M240.5 280.5V303.5" stroke="#f00"/>
<path d="M242.5 280.5V303.5" stroke="#f00"/>
<path d="M244.5 280.5V303.5" stroke="#f00"/>
<path d="M246.5 280.5V303.5" stroke="#f00"/>
<path d="M249.5 280.5V303.5" stroke="#f00"/>
<path d="M251.5 280.5V303.5" stroke="#f00"/>
<path d="M253.5 280.5V303.5" stroke="#f00"/>
<path d="M255.5 280.5V303.5" stroke="#f00"/>
<path d="M257.5 280.5V303.5" stroke="#f00"/>
<path d="M260.5 280.5V303.5" stroke="#f00"/>
<path d="M262.5 280.5V303.5" stroke="#f00"/>
<path d="M264.5 280.5V303.5" stroke="#f00"/>
<path d="M266.5 280.5V303.5" stroke="#f00"/>
<path d="M269.5 280.5V303.5" stroke="#f00"/>
<path d="M271.5 280.5V303.5" stroke="#f00"/>
<path d="M273.5 280.5V303.5" stroke="#f00"/>
<path d="M275.5 280.5V303.5" stroke="#f00"/>
<path d="M277.5 280.5V303.5" stroke="#f00"/>
<path d="M280.5 280.5V303.5" stroke="#f00"/>
<path d="M282.5 280.5V303.5" stroke="#f00"/>
<path d="M284.5 239.5V251.5" stroke="#008000"/>
<path d="M286.5 239.5V251.5" stroke="#008000"/>
<path d="M289.5 239.5V251.5" stroke="#008000"/>
<path d="M291.5 239.5V251.5" stroke="#008000"/>
<path d="M293.5 239.5V251.5" stroke="#008000"/>
<path d="M295.5 239.5V251.5" stroke="#008000"/>
<path d="M297.5 239.5V251.5" stroke="#008000"/>
<path d="M300.5 239.5V251.5" stroke="#008000"/>
<path d="M302.5 239.5V251.5" stroke="#008000"/>
<path d="M304.5 239.5V251.5" stroke="#008000"/>
<path d="M306.5 239.5V251.5" stroke="#008000"/>
<path d="M309.5 239.5V251.5" stroke="#008000"/>
<path d="M311.5 239.5V251.5" stroke="#008000"/>
<path d="M313.5 239.5V251.5" stroke="#008000"/>
<path d="M315.5 239.5V251.5" stroke="#008000"/>
<path d="M317.5 239.5V251.5" stroke="#008000"/>
<path d="M320.5 239.5V251.5" stroke="#008000"/>
<path d="M322.5 239.5V251.5" stroke="#008000"/>
<path d="M324.5 239.5V251.5" stroke="#008000"/>
<path d="M326.5 239.5V251.5" stroke="#008000"/>
<path d="M329.5 239.5V251.5" stroke="#008000"/>
<path d="M331.5 245.5V256.5" stroke="#f00"/>
<path d="M333.5 245.5V256.5" stroke="#f00"/>
<path d="M335.5 245.5V256.5" stroke="#f00"/>
<path d="M337.5 245.5V256.5" stroke="#f00"/>
<path d="M340.5 245.5V256.5" stroke="#f00"/>
<path d="M342.5 245.5V256.5" stroke="#f00"/>
<path d="M344.5 245.5V256.5" stroke="#f00"/>
<path d="M346.5 245.5V256.5" stroke="#f00"/>
<path d="M349.5 245.5V256.5" stroke="#f00"/>
<path d="M351.5 245.5V256.5" stroke="#f00"/>
<path d="M353.5 245.5V256.5" stroke="#f00"/>
<path d="M355.5 245.5V256.5" stroke="#f00"/>
<path d="M357.5 245.5V256.5" stroke="#f00"/>
<path d="M360.5 245.5V256.5" stroke="#f00"/>
<path d="M362.5 245.5V256.5" stroke="#f00"/>
<path d="M364.5 245.5V256.5" stroke="#f00"/>
<path d="M366.5 245.5V256.5" stroke="#f00"/>
<path d="M369.5 245.5V256.5" stroke="#f00"/>
<path d="M371.5 245.5V256.5" stroke="#f00"/>
<path d="M373.5 245.5V256.5" stroke="#f00"/>
<path d="M464.5 285.5V303.5" stroke="#008000"/>
<path d="M466.5 285.5V303.5" stroke="#008000"/>
<path d="M469.5 285.5V303.5" stroke="#008000"/>
<path d="M471.5 285.5V303.5" stroke="#008000"/>
<path d="M473.5 285.5V303.5" stroke="#008000"/>
<path d="M475.5 285.5V303.5" stroke="#008000"/>
<path d="M478.5 285.5V303.5" stroke="#008000"/>
<path d="M480.5 285.5V303.5" stroke="#008000"/>
<path d="M482.5 285.5V303.5" stroke="#008000"/>
<path d="M484.5 285.5V303.5" stroke="#008000"/>
<path d="M486.5 285.5V303.5" stroke="#008000"/>
<path d="M489.5 285.5V303.5" stroke="#008000"/>
<path d="M491.5 285.5V303.5" stroke="#008000"/>
<path d="M493.5 285.5V303.5" stroke="#008000"/>
<path d="M495.5 285.5V303.5" stroke="#008000"/>
<path d="M498.5 285.5V303.5" stroke="#008000"/>
<path d="M500.5 285.5V303.5" stroke="#008000"/>
<path d="M502.5 285.5V303.5" stroke="#008000"/>
<path d="M504.5 285.5V303.5" stroke="#008000"/>
<path d="M546.5 291.5V297.5" stroke="#008000"/>
<path d="M549.5 291.5V297.5" stroke="#008000"/>
<path d="M551.5 291.5V297.5" stroke="#008000"/>
<path d="M553.5 291.5V297.5" stroke="#008000"/>
<path d="M555.5 291.5V297.5" stroke="#008000"/>
<path d="M558.5 291.5V297.5" stroke="#008000"/>
<path d="M560.5 291.5V297.5" stroke="#008000"/>
<path d="M562.5 291.5V297.5" stroke="#008000"/>
<path d="M564.5 291.5V297.5" stroke="#008000"/>
<path d="M566.5 291.5V297.5" stroke="#008000"/>
<path d="M569.5 291.5V297.5" stroke="#008000"/>
<path d="M571.5 291.5V297.5" stroke="#008000"/>
<path d="M573.5 291.5V297.5" stroke="#008000"/>
<path d="M575.5 291.5V297.5" stroke="#008000"/>
<path d="M578.5 291.5V297.5" stroke="#008000"/>
<path d="M580.5 291.5V297.5" stroke="#008000"/>
<path d="M582.5 291.5V297.5" stroke="#008000"/>
<path d="M584.5 268.5V280.5" stroke="#008000"/>
<path d="M586.5 268.5V280.5" stroke="#008000"/>
<path d="M589.5 268.5V280.5" stroke="#008000"/>
<path d="M591.5 268.5V280.5" stroke="#008000"/>
<path d="M593.5 268.5V280.5" stroke="#008000"/>
<path d="M595.5 268.5V280.5" stroke="#008000"/>
<path d="M598.5 268.5V280.5" stroke="#008000"/>
<path d="M600.5 268.5V280.5" stroke="#008000"/>
<path d="M602.5 268.5V280.5" stroke="#008000"/>
<path d="M604.5 268.5V280.5" stroke="#008000"/>
<path d="M606.5 268.5V280.5" stroke="#008000"/>
<path d="M609.5 268.5V280.5" stroke="#008000"/>
<path d="M611.5 268.5V280.5" stroke="#008000"/>
<path d="M613.5 268.5V280.5" stroke="#008000"/>
<path d="M615.5 268.5V280.5" stroke="#008000"/>
<path d="M618.5 268.5V280.5" stroke="#008000"/>
<path d="M653.5 274.5V280.5" stroke="#008000"/>
<path d="M655.5 274.5V280.5" stroke="#008000"/>
<path d="M658.5 274.5V280.5" stroke="#008000"/>
<path d="M660.5 274.5V280.5" stroke="#008000"/>
<path d="M662.5 274.5V280.5" stroke="#008000"/>
<path d="M664.5 274.5V280.5" stroke="#008000"/>
<path d="M666.5 274.5V280.5" stroke="#008000"/>
<path d="M669.5 274.5V280.5" stroke="#008000"/>
<path d="M671.5 274.5V280.5" stroke="#008000"/>
<path d="M673.5 274.5V280.5" stroke="#008000"/>
<path d="M675.5 274.5V280.5" stroke="#008000"/>
<path d="M678.5 274.5V280.5" stroke="#008000"/>
<path d="M680.5 274.5V280.5" stroke="#008000"/>
<path d="M682.5 274.5V280.5" stroke="#008000"/>
<path d="M684.5 262.5V268.5" stroke="#f00"/>
<path d="M686.5 262.5V268.5" stroke="#f00"/>
<path d="M689.5 262.5V268.5" stroke="#f00"/>
<path d="M691.5 262.5V268.5" stroke="#f00"/>
<path d="M693.5 262.5V268.5" stroke="#f00"/>
<path d="M695.5 262.5V268.5" stroke="#f00"/>
<path d="M698.5 262.5V268.5" stroke="#f00"/>
<path d="M700.5 262.5V268.5" stroke="#f00"/>
<path d="M702.5 262.5V268.5" stroke="#f00"/>
<path d="M704.5 262.5V268.5" stroke="#f00"/>
<path d="M706.5 262.5V268.5" stroke="#f00"/>
<path d="M709.5 262.5V268.5" stroke="#f00"/>
<path d="M711.5 262.5V268.5" stroke="#f00"/>
<path d="M713.5 274.5V280.5" stroke="#f00"/>
<path d="M715.5 274.5V280.5" stroke="#f00"/>
<path d="M718.5 274.5V280.5" stroke="#f00"/>
<path d="M720.5 274.5V280.5" stroke="#f00"/>
<path d="M722.5 274.5V280.5" stroke="#f00"/>
<path d="M724.5 274.5V280.5" stroke="#f00"/>
<path d="M727.5 274.5V280.5" stroke="#f00"/>
<path d="M729.5 274.5V280.5" stroke="#f00"/>
<path d="M731.5 274.5V280.5" stroke="#f00"/>
<path d="M733.5 274.5V280.5" stroke="#f00"/>
<path d="M735.5 274.5V280.5" stroke="#f00"/>
<path d="M738.5 274.5V280.5" stroke="#f00"/>
<path d="M740.5 256.5V262.5" stroke="#008000"/>
<path d="M742.5 256.5V262.5" stroke="#008000"/>
<path d="M744.5 256.5V262.5" stroke="#008000"/>
<path d="M747.5 256.5V262.5" stroke="#008000"/>
<path d="M749.5 256.5V262.5" stroke="#008000"/>
<path d="M751.5 256.5V262.5" stroke="#008000"/>
<path d="M753.5 256.5V262.5" stroke="#008000"/>
<path d="M755.5 256.5V262.5" stroke="#008000"/>
<path d="M758.5 256.5V262.5" stroke="#008000"/>
<path d="M760.5 256.5V262.5" stroke="#008000"/>
<path d="M762.5 256.5V262.5" stroke="#008000"/>
<path d="M764.5 239.5V251.5" stroke="#008000"/>
<path d="M767.5 239.5V251.5" stroke="#008000"/>
<path d="M769.5 239.5V251.5" stroke="#008000"/>
<path d="M771.5 239.5V251.5" stroke="#008000"/>
<path d="M773.5 239.5V251.5" stroke="#008000"/>
<path d="M775.5 239.5V251.5" stroke="#008000"/>
<path d="M778.5 239.5V251.5" stroke="#008000"/>
<path d="M780.5 239.5V251.5" stroke="#008000"/>
<path d="M782.5 239.5V251.5" stroke="#008000"/>
<path d="M784.5 239.5V251.5" stroke="#008000"/>
<path d="M787.5 204.5V216.5" stroke="#008000"/>
<path d="M789.5 204.5V216.5" stroke="#008000"/>
<path d="M791.5 204.5V216.5" stroke="#008000"/>
<path d="M793.5 204.5V216.5" stroke="#008000"/>
<path d="M795.5 204.5V216.5" stroke="#008000"/>
<path d="M798.5 204.5V216.5" stroke="#008000"/>
<path d="M800.5 204.5V216.5" stroke="#008000"/>
<path d="M802.5 204.5V216.5" stroke="#008000"/>
<path d="M804.5 204.5V216.5" stroke="#008000"/>
<path d="M807.5 204.5V210.5" stroke="#f00"/>
<path d="M809.5 204.5V210.5" stroke="#f00"/>
<path d="M811.5 204.5V210.5" stroke="#f00"/>
<path d="M813.5 204.5V210.5" stroke="#f00"/>
<path d="M815.5 204.5V210.5" stroke="#f00"/>
<path d="M818.5 204.5V210.5" stroke="#f00"/>
<path d="M820.5 204.5V210.5" stroke="#f00"/>
<path d="M822.5 204.5V210.5" stroke="#f00"/>
<path d="M840.5 82.5V117.5" stroke="#008000"/>
<path d="M842.5 82.5V117.5" stroke="#008000"/>
<path d="M844.5 82.5V117.5" stroke="#008000"/>
<path d="M847.5 82.5V117.5" stroke="#008000"/>
<path d="M849.5 82.5V117.5" stroke="#008000"/>
<path d="M851.5 82.5V117.5" stroke="#008000"/>
<path d="M864.5 129.5V163.5" stroke="#008000"/>
<path d="M867.5 129.5V163.5" stroke="#008000"/>
<path d="M869.5 129.5V163.5" stroke="#008000"/>
<path d="M871.5 129.5V163.5" stroke="#008000"/>
<path d="M873.5 140.5V163.5" stroke="#f00"/>
<path d="M875.5 140.5V163.5" stroke="#f00"/>
<path d="M878.5 140.5V163.5" stroke="#f00"/>
<path d="M880.5 163.5V187.5" stroke="#008000"/>
<path d="M882.5 163.5V187.5" stroke="#008000"/>
<path d="M884.5 111.5V134.5" stroke="#008000"/>
</g>
<g stroke-width="0.604" fill-opacity="0.9" stroke-linejoin="round">
<path d="M219.5 268.5V303.5H220.5V268.5Z" fill="#f00" stroke="#f00"/>
<path d="M221.5 268.5V303.5H222.5V268.5Z" fill="#f00" stroke="#f00"/>
<path d="M224.5 268.5V303.5H225.5V268.5Z" fill="#f00" stroke="#f00"/>
<path d="M226.5 268.5V303.5H227.5V268.5Z" fill="#f00" stroke="#f00"/>
<path d="M228.5 268.5V303.5H229.5V268.5Z" fill="#f00" stroke="#f00"/>
<path d="M230.5 268.5V303.5H231.5V268.5Z" fill="#f00" stroke="#f00"/>
<path d="M233.5 268.5V303.5" fill="none" stroke="#f00"/>
<path d="M235.5 303.5H236.5" fill="none" stroke="#f00"/>
<path d="M237.5 303.5H238.5" fill="none" stroke="#f00"/>
<path d="M239.5 303.5H240.5" fill="none" stroke="#f00"/>
<path d="M241.5 303.5H242.5" fill="none" stroke="#f00"/>
<path d="M244.5 303.5H245.5" fill="none" stroke="#f00"/>
<path d="M246.5 303.5H247.5" fill="none" stroke="#f00"/>
<path d="M248.5 303.5H249.5" fill="none" stroke="#f00"/>
<path d="M250.5 303.5H251.5" fill="none" stroke="#f00"/>
<path d="M255.5 303.5H256.5" fill="none" stroke="#f00"/>
<path d="M257.5 303.5H258.5" fill="none" stroke="#f00"/>
<path d="M259.5 303.5H260.5" fill="none" stroke="#f00"/>
<path d="M261.5 303.5H262.5" fill="none" stroke="#f00"/>
<path d="M264.5 303.5H265.5" fill="none" stroke="#f00"/>
<path d="M266.5 303.5H267.5" fill="none" stroke="#f00"/>
<path d="M268.5 303.5H269.5" fill="none" stroke="#f00"/>
<path d="M270.5 303.5H271.5" fill="none" stroke="#f00"/>
<path d="M275.5 303.5H276.5" fill="none" stroke="#f00"/>
<path d="M277.5 303.5H278.5" fill="none" stroke="#f00"/>
<path d="M279.5 303.5H280.5" fill="none" stroke="#f00"/>
<path d="M281.5 303.5H282.5" fill="none" stroke="#f00"/>
<path d="M284.5 297.5V251.5H285.5V297.5Z" fill="#008000" stroke="#008000"/>
<path d="M286.5 297.5V251.5H287.5V297.5Z" fill="#008000" stroke="#008000"/>
<path d="M288.5 297.5V251.5H289.5V297.5Z" fill="#008000" stroke="#008000"/>
<path d="M290.5 297.5V251.5H291.5V297.5Z" fill="#008000" stroke="#008000"/>
<path d="M293.5 297.5V251.5" fill="none" stroke="#008000"/>
<path d="M295.5 297.5V251.5H296.5V297.5Z" fill="#008000" stroke="#008000"/>
<path d="M297.5 297.5V251.5H298.5V297.5Z" fill="#008000" stroke="#008000"/>
<path d="M299.5 297.5V251.5H300.5V297.5Z" fill="#008000" stroke="#008000"/>
<path d="M301.5 297.5V251.5H302.5V297.5Z" fill="#008000" stroke="#008000"/>
<path d="M304.5 297.5V251.5H305.5V297.5Z" fill="#008000" stroke="#008000"/>
<path d="M306.5 297.5V251.5H307.5V297.5Z" fill="#008000" stroke="#008000"/>
<path d="M308.5 297.5V251.5H309.5V297.5Z" fill="#008000" stroke="#008000"/>
<path d="M310.5 297.5V251.5H311.5V297.5Z" fill="#008000" stroke="#008000"/>
<path d="M313.5 297.5V251.5" fill="none" stroke="#008000"/>
<path d="M315.5 297.5V251.5H316.5V297.5Z" fill="#008000" stroke="#008000"/>
<path d="M317.5 297.5V251.5H318.5V297.5Z" fill="#008000" stroke="#008000"/>
<path d="M319.5 297.5V251.5H320.5V297.5Z" fill="#008000" stroke="#008000"/>
<path d="M321.5 297.5V251.5H322.5V297.5Z" fill="#008000" stroke="#008000"/>
<path d="M324.5 297.5V251.5H325.5V297.5Z" fill="#008000" stroke="#008000"/>
<path d="M326.5 297.5V251.5H327.5V297.5Z" fill="#008000" stroke="#008000"/>
<path d="M328.5 297.5V251.5H329.5V297.5Z" fill="#008000" stroke="#008000"/>
<path d="M330.5 256.5V274.5H331.5V256.5Z" fill="#f00" stroke="#f00"/>
<path d="M333.5 256.5V274.5H334.5V256.5Z" fill="#f00" stroke="#f00"/>
<path d="M335.5 256.5V274.5H336.5V256.5Z" fill="#f00" stroke="#f00"/>
<path d="M337.5 256.5V274.5H338.5V256.5Z" fill="#f00" stroke="#f00"/>
<path d="M339.5 256.5V274.5H340.5V256.5Z" fill="#f00" stroke="#f00"/>
<path d="M341.5 256.5V274.5H342.5V256.5Z" fill="#f00" stroke="#f00"/>
<path d="M344.5 256.5V274.5H345.5V256.5Z" fill="#f00" stroke="#f00"/>
<path d="M346.5 256.5V274.5H347.5V256.5Z" fill="#f00" stroke="#f00"/>
<path d="M348.5 256.5V274.5H349.5V256.5Z" fill="#f00" stroke="#f00"/>
<path d="M350.5 256.5V274.5H351.5V256.5Z" fill="#f00" stroke="#f00"/>
<path d="M353.5 256.5V274.5H354.5V256.5Z" fill="#f00" stroke="#f00"/>
<path d="M355.5 256.5V274.5H356.5V256.5Z" fill="#f00" stroke="#f00"/>
<path d="M357.5 256.5V274.5H358.5V256.5Z" fill="#f00" stroke="#f00"/>
<path d="M359.5 256.5V274.5H360.5V256.5Z" fill="#f00" stroke="#f00"/>
<path d="M361.5 256.5V274.5H362.5V256.5Z" fill="#f00" stroke="#f00"/>
<path d="M364.5 256.5V274.5H365.5V256.5Z" fill="#f00" stroke="#f00"/>
<path d="M366.5 256.5V274.5H367.5V256.5Z" fill="#f00" stroke="#f00"/>
<path d="M368.5 256.5V274.5H369.5V256.5Z" fill="#f00" stroke="#f00"/>
<path d="M370.5 256.5V274.5H371.5V256.5Z" fill="#f00" stroke="#f00"/>
<path d="M373.5 256.5V274.5H374.5V256.5Z" fill="#f00" stroke="#f00"/>
<path d="M375.5 268.5V262.5H376.5V268.5Z" fill="#008000" stroke="#008000"/>
<path d="M377.5 268.5V262.5H378.5V268.5Z" fill="#008000" stroke="#008000"/>
<path d="M379.5 268.5V262.5H380.5V268.5Z" fill="#008000" stroke="#008000"/>
<path d="M381.5 268.5V262.5H382.5V268.5Z" fill="#008000" stroke="#008000"/>
<path d="M384.5 268.5V262.5H385.5V268.5Z" fill="#008000" stroke="#008000"/>
<path d="M386.5 268.5V262.5H387.5V268.5Z" fill="#008000" stroke="#008000"/>
<path d="M388.5 268.5V262.5H389.5V268.5Z" fill="#008000" stroke="#008000"/>
<path d="M390.5 268.5V262.5H391.5V268.5Z" fill="#008000" stroke="#008000"/>
<path d="M393.5 268.5V262.5H394.5V268.5Z" fill="#008000" stroke="#008000"/>
<path d="M395.5 268.5V262.5H396.5V268.5Z" fill="#008000" stroke="#008000"/>
<path d="M397.5 268.5V262.5H398.5V268.5Z" fill="#008000" stroke="#008000"/>
<path d="M399.5 268.5V262.5H400.5V268.5Z" fill="#008000" stroke="#008000"/>
<path d="M401.5 268.5V262.5H402.5V268.5Z" fill="#008000" stroke="#008000"/>
<path d="M404.5 268.5V262.5H405.5V268.5Z" fill="#008000" stroke="#008000"/>
<path d="M406.5 268.5V262.5H407.5V268.5Z" fill="#008000" stroke="#008000"/>
<path d="M408.5 268.5V262.5H409.5V268.5Z" fill="#008000" stroke="#008000"/>
<path d="M410.5 268.5V262.5H411.5V268.5Z" fill="#008000" stroke="#008000"/>
<path d="M413.5 268.5V262.5H414.5V268.5Z" fill="#008000" stroke="#008000"/>
<path d="M415.5 268.5V262.5H416.5V268.5Z" fill="#008000" stroke="#008000"/>
<path d="M417.5 268.5V262.5H418.5V268.5Z" fill="#008000" stroke="#008000"/>
<path d="M419.5 262.5V326.5H420.5V262.5Z" fill="#f00" stroke="#f00"/>
<path d="M421.5 262.5V326.5H422.5V262.5Z" fill="#f00" stroke="#f00"/>
<path d="M424.5 262.5V326.5H425.5V262.5Z" fill="#f00" stroke="#f00"/>
<path d="M426.5 262.5V326.5H427.5V262.5Z" fill="#f00" stroke="#f00"/>
<path d="M428.5 262.5V326.5H429.5V262.5Z" fill="#f00" stroke="#f00"/>
<path d="M430.5 262.5V326.5H431.5V262.5Z" fill="#f00" stroke="#f00"/>
<path d="M433.5 262.5V326.5H434.5V262.5Z" fill="#f00" stroke="#f00"/>
<path d="M435.5 262.5V326.5H436.5V262.5Z" fill="#f00" stroke="#f00"/>
<path d="M437.5 262.5V326.5H438.5V262.5Z" fill="#f00" stroke="#f00"/>
<path d="M439.5 262.5V326.5H440.5V262.5Z" fill="#f00" stroke="#f00"/>
<path d="M442.5 262.5V326.5" fill="none" stroke="#f00"/>
<path d="M444.5 262.5V326.5H445.5V262.5Z" fill="#f00" stroke="#f00"/>
<path d="M446.5 262.5V326.5H447.5V262.5Z" fill="#f00" stroke="#f00"/>
<path d="M448.5 262.5V326.5H449.5V262.5Z" fill="#f00" stroke="#f00"/>
<path d="M450.5 262.5V326.5H451.5V262.5Z" fill="#f00" stroke="#f00"/>
<path d="M453.5 262.5V326.5H454.5V262.5Z" fill="#f00" stroke="#f00"/>
<path d="M455.5 262.5V326.5H456.5V262.5Z" fill="#f00" stroke="#f00"/>
<path d="M457.5 262.5V326.5H458.5V262.5Z" fill="#f00" stroke="#f00"/>
<path d="M459.5 262.5V326.5H460.5V262.5Z" fill="#f00" stroke="#f00"/>
<path d="M462.5 262.5V326.5" fill="none" stroke="#f00"/>
<path d="M464.5 332.5V303.5H465.5V332.5Z" fill="#008000" stroke="#008000"/>
<path d="M466.5 332.5V303.5H467.5V332.5Z" fill="#008000" stroke="#008000"/>
<path d="M468.5 332.5V303.5H469.5V332.5Z" fill="#008000" stroke="#008000"/>
<path d="M470.5 332.5V303.5H471.5V332.5Z" fill="#008000" stroke="#008000"/>
<path d="M473.5 332.5V303.5H474.5V332.5Z" fill="#008000" stroke="#008000"/>
<path d="M475.5 332.5V303.5H476.5V332.5Z" fill="#008000" stroke="#008000"/>
<path d="M477.5 332.5V303.5H478.5V332.5Z" fill="#008000" stroke="#008000"/>
<path d="M479.5 332.5V303.5H480.5V332.5Z" fill="#008000" stroke="#008000"/>
<path d="M482.5 332.5V303.5" fill="none" stroke="#008000"/>
<path d="M484.5 332.5V303.5H485.5V332.5Z" fill="#008000" stroke="#008000"/>
<path d="M486.5 332.5V303.5H487.5V332.5Z" fill="#008000" stroke="#008000"/>
<path d="M488.5 332.5V303.5H489.5V332.5Z" fill="#008000" stroke="#008000"/>
<path d="M490.5 332.5V303.5H491.5V332.5Z" fill="#008000" stroke="#008000"/>
<path d="M493.5 332.5V303.5H494.5V332.5Z" fill="#008000" stroke="#008000"/>
<path d="M495.5 332.5V303.5H496.5V332.5Z" fill="#008000" stroke="#008000"/>
<path d="M497.5 332.5V303.5H498.5V332.5Z" fill="#008000" stroke="#008000"/>
<path d="M499.5 332.5V303.5H500.5V332.5Z" fill="#008000" stroke="#008000"/>
<path d="M502.5 332.5V303.5" fill="none" stroke="#008000"/>
<path d="M504.5 332.5V303.5H505.5V332.5Z" fill="#008000" stroke="#008000"/>
<path d="M506.5 297.5V338.5H507.5V297.5Z" fill="#f00" stroke="#f00"/>
<path d="M508.5 297.5V338.5H509.5V297.5Z" fill="#f00" stroke="#f00"/>
<path d="M510.5 297.5V338.5H511.5V297.5Z" fill="#f00" stroke="#f00"/>
<path d="M513.5 297.5V338.5H514.5V297.5Z" fill="#f00" stroke="#f00"/>
<path d="M515.5 297.5V338.5H516.5V297.5Z" fill="#f00" stroke="#f00"/>
<path d="M517.5 297.5V338.5H518.5V297.5Z" fill="#f00" stroke="#f00"/>
<path d="M519.5 297.5V338.5H520.5V297.5Z" fill="#f00" stroke="#f00"/>
<path d="M522.5 297.5V338.5" fill="none" stroke="#f00"/>
<path d="M524.5 297.5V338.5H525.5V297.5Z" fill="#f00" stroke="#f00"/>
<path d="M526.5 297.5V338.5H527.5V297.5Z" fill="#f00" stroke="#f00"/>
<path d="M528.5 297.5V338.5H529.5V297.5Z" fill="#f00" stroke="#f00"/>
<path d="M530.5 297.5V338.5H531.5V297.5Z" fill="#f00" stroke="#f00"/>
<path d="M533.5 297.5V338.5H534.5V297.5Z" fill="#f00" stroke="#f00"/>
<path d="M535.5 297.5V338.5H536.5V297.5Z" fill="#f00" stroke="#f00"/>
<path d="M537.5 297.5V338.5H538.5V297.5Z" fill="#f00" stroke="#f00"/>
<path d="M539.5 297.5V338.5H540.5V297.5Z" fill="#f00" stroke="#f00"/>
<path d="M542.5 297.5V338.5" fill="none" stroke="#f00"/>
<path d="M544.5 297.5V338.5H545.5V297.5Z" fill="#f00" stroke="#f00"/>
<path d="M546.5 338.5V297.5H547.5V338.5Z" fill="#008000" stroke="#008000"/>
<path d="M548.5 338.5V297.5H549.5V338.5Z" fill="#008000" stroke="#008000"/>
<path d="M550.5 338.5V297.5H551.5V338.5Z" fill="#008000" stroke="#008000"/>
<path d="M553.5 338.5V297.5H554.5V338.5Z" fill="#008000" stroke="#008000"/>
<path d="M555.5 338.5V297.5H556.5V338.5Z" fill="#008000" stroke="#008000"/>
<path d="M557.5 338.5V297.5H558.5V338.5Z" fill="#008000" stroke="#008000"/>
<path d="M559.5 338.5V297.5H560.5V338.5Z" fill="#008000" stroke="#008000"/>
<path d="M562.5 338.5V297.5" fill="none" stroke="#008000"/>
<path d="M564.5 338.5V297.5H565.5V338.5Z" fill="#008000" stroke="#008000"/>
<path d="M566.5 338.5V297.5H567.5V338.5Z" fill="#008000" stroke="#008000"/>
<path d="M568.5 338.5V297.5H569.5V338.5Z" fill="#008000" stroke="#008000"/>
<path d="M570.5 338.5V297.5H571.5V338.5Z" fill="#008000" stroke="#008000"/>
<path d="M573.5 338.5V297.5H574.5V338.5Z" fill="#008000" stroke="#008000"/>
<path d="M575.5 338.5V297.5H576.5V338.5Z" fill="#008000" stroke="#008000"/>
<path d="M577.5 338.5V297.5H578.5V338.5Z" fill="#008000" stroke="#008000"/>
<path d="M579.5 338.5V297.5H580.5V338.5Z" fill="#008000" stroke="#008000"/>
<path d="M582.5 338.5V297.5" fill="none" stroke="#008000"/>
<path d="M584.5 297.5V280.5H585.5V297.5Z" fill="#008000" stroke="#008000"/>
<path d="M586.5 297.5V280.5H587.5V297.5Z" fill="#008000" stroke="#008000"/>
<path d="M588.5 297.5V280.5H589.5V297.5Z" fill="#008000" stroke="#008000"/>
<path d="M590.5 297.5V280.5H591.5V297.5Z" fill="#008000" stroke="#008000"/>
<path d="M593.5 297.5V280.5H594.5V297.5Z" fill="#008000" stroke="#008000"/>
<path d="M595.5 297.5V280.5H596.5V297.5Z" fill="#008000" stroke="#008000"/>
<path d="M597.5 297.5V280.5H598.5V297.5Z" fill="#008000" stroke="#008000"/>
<path d="M599.5 297.5V280.5H600.5V297.5Z" fill="#008000" stroke="#008000"/>
<path d="M602.5 297.5V280.5" fill="none" stroke="#008000"/>
<path d="M604.5 297.5V280.5H605.5V297.5Z" fill="#008000" stroke="#008000"/>
<path d="M606.5 297.5V280.5H607.5V297.5Z" fill="#008000" stroke="#008000"/>
<path d="M608.5 297.5V280.5H609.5V297.5Z" fill="#008000" stroke="#008000"/>
<path d="M610.5 297.5V280.5H611.5V297.5Z" fill="#008000" stroke="#008000"/>
<path d="M613.5 297.5V280.5H614.5V297.5Z" fill="#008000" stroke="#008000"/>
<path d="M615.5 297.5V280.5H616.5V297.5Z" fill="#008000" stroke="#008000"/>
<path d="M617.5 297.5V280.5H618.5V297.5Z" fill="#008000" stroke="#008000"/>
<path d="M619.5 280.5V297.5H620.5V280.5Z" fill="#f00" stroke="#f00"/>
<path d="M622.5 280.5V297.5" fill="none" stroke="#f00"/>
<path d="M624.5 280.5V297.5H625.5V280.5Z" fill="#f00" stroke="#f00"/>
<path d="M626.5 280.5V297.5H627.5V280.5Z" fill="#f00" stroke="#f00"/>
<path d="M628.5 280.5V297.5H629.5V280.5Z" fill="#f00" stroke="#f00"/>
<path d="M630.5 280.5V297.5H631.5V280.5Z" fill="#f00" stroke="#f00"/>
<path d="M633.5 280.5V297.5H634.5V280.5Z" fill="#f00" stroke="#f00"/>
<path d="M635.5 280.5V297.5H636.5V280.5Z" fill="#f00" stroke="#f00"/>
<path d="M637.5 280.5V297.5H638.5V280.5Z" fill="#f00" stroke="#f00"/>
<path d="M639.5 280.5V297.5H640.5V280.5Z" fill="#f00" stroke="#f00"/>
<path d="M642.5 280.5V297.5" fill="none" stroke="#f00"/>
<path d="M644.5 280.5V297.5H645.5V280.5Z" fill="#f00" stroke="#f00"/>
<path d="M646.5 280.5V297.5H647.5V280.5Z" fill="#f00" stroke="#f00"/>
<path d="M648.5 280.5V297.5H649.5V280.5Z" fill="#f00" stroke="#f00"/>
<path d="M650.5 280.5V297.5H651.5V280.5Z" fill="#f00" stroke="#f00"/>
<path d="M653.5 297.5V280.5H654.5V297.5Z" fill="#008000" stroke="#008000"/>
<path d="M655.5 297.5V280.5H656.5V297.5Z" fill="#008000" stroke="#008000"/>
<path d="M657.5 297.5V280.5H658.5V297.5Z" fill="#008000" stroke="#008000"/>
<path d="M659.5 297.5V280.5H660.5V297.5Z" fill="#008000" stroke="#008000"/>
<path d="M662.5 297.5V280.5" fill="none" stroke="#008000"/>
<path d="M664.5 297.5V280.5H665.5V297.5Z" fill="#008000" stroke="#008000"/>
<path d="M666.5 297.5V280.5H667.5V297.5Z" fill="#008000" stroke="#008000"/>
<path d="M668.5 297.5V280.5H669.5V297.5Z" fill="#008000" stroke="#008000"/>
<path d="M670.5 297.5V280.5H671.5V297.5Z" fill="#008000" stroke="#008000"/>
<path d="M673.5 297.5V280.5H674.5V297.5Z" fill="#008000" stroke="#008000"/>
<path d="M675.5 297.5V280.5H676.5V297.5Z" fill="#008000" stroke="#008000"/>
<path d="M677.5 297.5V280.5H678.5V297.5Z" fill="#008000" stroke="#008000"/>
<path d="M679.5 297.5V280.5H680.5V297.5Z" fill="#008000" stroke="#008000"/>
<path d="M682.5 297.5V280.5H683.5V297.5Z" fill="#008000" stroke="#008000"/>
<path d="M684.5 268.5V280.5H685.5V268.5Z" fill="#f00" stroke="#f00"/>
<path d="M686.5 268.5V280.5H687.5V268.5Z" fill="#f00" stroke="#f00"/>
<path d="M688.5 268.5V280.5H689.5V268.5Z" fill="#f00" stroke="#f00"/>
<path d="M690.5 268.5V280.5H691.5V268.5Z" fill="#f00" stroke="#f00"/>
<path d="M693.5 268.5V280.5H694.5V268.5Z" fill="#f00" stroke="#f00"/>
<path d="M695.5 268.5V280.5H696.5V268.5Z" fill="#f00" stroke="#f00"/>
<path d="M697.5 268.5V280.5H698.5V268.5Z" fill="#f00" stroke="#f00"/>
<path d="M699.5 268.5V280.5H700.5V268.5Z" fill="#f00" stroke="#f00"/>
<path d="M702.5 268.5V280.5H703.5V268.5Z" fill="#f00" stroke="#f00"/>
<path d="M704.5 268.5V280.5H705.5V268.5Z" fill="#f00" stroke="#f00"/>
<path d="M706.5 268.5V280.5H707.5V268.5Z" fill="#f00" stroke="#f00"/>
<path d="M708.5 268.5V280.5H709.5V268.5Z" fill="#f00" stroke="#f00"/>
<path d="M710.5 268.5V280.5H711.5V268.5Z" fill="#f00" stroke="#f00"/>
<path d="M713.5 280.5V285.5H714.5V280.5Z" fill="#f00" stroke="#f00"/>
<path d="M715.5 280.5V285.5H716.5V280.5Z" fill="#f00" stroke="#f00"/>
<path d="M717.5 280.5V285.5H718.5V280.5Z" fill="#f00" stroke="#f00"/>
<path d="M719.5 280.5V285.5H720.5V280.5Z" fill="#f00" stroke="#f00"/>
<path d="M722.5 280.5V285.5H723.5V280.5Z" fill="#f00" stroke="#f00"/>
<path d="M724.5 280.5V285.5H725.5V280.5Z" fill="#f00" stroke="#f00"/>
<path d="M726.5 280.5V285.5H727.5V280.5Z" fill="#f00" stroke="#f00"/>
<path d="M728.5 280.5V285.5H729.5V280.5Z" fill="#f00" stroke="#f00"/>
<path d="M730.5 280.5V285.5H731.5V280.5Z" fill="#f00" stroke="#f00"/>
<path d="M733.5 280.5V285.5H734.5V280.5Z" fill="#f00" stroke="#f00"/>
<path d="M735.5 280.5V285.5H736.5V280.5Z" fill="#f00" stroke="#f00"/>
<path d="M737.5 280.5V285.5H738.5V280.5Z" fill="#f00" stroke="#f00"/>
<path d="M739.5 285.5V262.5H740.5V285.5Z" fill="#008000" stroke="#008000"/>
<path d="M742.5 285.5V262.5H743.5V285.5Z" fill="#008000" stroke="#008000"/>
<path d="M744.5 285.5V262.5H745.5V285.5Z" fill="#008000" stroke="#008000"/>
<path d="M746.5 285.5V262.5H747.5V285.5Z" fill="#008000" stroke="#008000"/>
<path d="M748.5 285.5V262.5H749.5V285.5Z" fill="#008000" stroke="#008000"/>
<path d="M750.5 285.5V262.5H751.5V285.5Z" fill="#008000" stroke="#008000"/>
<path d="M753.5 285.5V262.5H754.5V285.5Z" fill="#008000" stroke="#008000"/>
<path d="M755.5 285.5V262.5H756.5V285.5Z" fill="#008000" stroke="#008000"/>
<path d="M757.5 285.5V262.5H758.5V285.5Z" fill="#008000" stroke="#008000"/>
<path d="M759.5 285.5V262.5H760.5V285.5Z" fill="#008000" stroke="#008000"/>
<path d="M762.5 285.5V262.5H763.5V285.5Z" fill="#008000" stroke="#008000"/>
<path d="M764.5 262.5V251.5H765.5V262.5Z" fill="#008000" stroke="#008000"/>
<path d="M766.5 262.5V251.5H767.5V262.5Z" fill="#008000" stroke="#008000"/>
<path d="M768.5 262.5V251.5H769.5V262.5Z" fill="#008000" stroke="#008000"/>
<path d="M770.5 262.5V251.5H771.5V262.5Z" fill="#008000" stroke="#008000"/>
<path d="M773.5 262.5V251.5H774.5V262.5Z" fill="#008000" stroke="#008000"/>
<path d="M775.5 262.5V251.5H776.5V262.5Z" fill="#008000" stroke="#008000"/>
<path d="M777.5 262.5V251.5H778.5V262.5Z" fill="#008000" stroke="#008000"/>
<path d="M779.5 262.5V251.5H780.5V262.5Z" fill="#008000" stroke="#008000"/>
<path d="M782.5 262.5V251.5H783.5V262.5Z" fill="#008000" stroke="#008000"/>
<path d="M784.5 262.5V251.5H785.5V262.5Z" fill="#008000" stroke="#008000"/>
<path d="M786.5 256.5V216.5H787.5V256.5Z" fill="#008000" stroke="#008000"/>
<path d="M788.5 256.5V216.5H789.5V256.5Z" fill="#008000" stroke="#008000"/>
<path d="M791.5 256.5V216.5" fill="none" stroke="#008000"/>
<path d="M793.5 256.5V216.5H794.5V256.5Z" fill="#008000" stroke="#008000"/>
<path d="M795.5 256.5V216.5H796.5V256.5Z" fill="#008000" stroke="#008000"/>
<path d="M797.5 256.5V216.5H798.5V256.5Z" fill="#008000" stroke="#008000"/>
<path d="M799.5 256.5V216.5H800.5V256.5Z" fill="#008000" stroke="#008000"/>
<path d="M802.5 256.5V216.5H803.5V256.5Z" fill="#008000" stroke="#008000"/>
<path d="M804.5 256.5V216.5H805.5V256.5Z" fill="#008000" stroke="#008000"/>
<path d="M806.5 210.5H807.5" fill="none" stroke="#f00"/>
<path d="M808.5 210.5H809.5" fill="none" stroke="#f00"/>
<path d="M813.5 210.5H814.5" fill="none" stroke="#f00"/>
<path d="M815.5 210.5H816.5" fill="none" stroke="#f00"/>
<path d="M817.5 210.5H818.5" fill="none" stroke="#f00"/>
<path d="M819.5 210.5H820.5" fill="none" stroke="#f00"/>
<path d="M822.5 210.5H823.5" fill="none" stroke="#f00"/>
<path d="M824.5 210.5V146.5H825.5V210.5Z" fill="#008000" stroke="#008000"/>
<path d="M826.5 210.5V146.5H827.5V210.5Z" fill="#008000" stroke="#008000"/>
<path d="M828.5 210.5V146.5H829.5V210.5Z" fill="#008000" stroke="#008000"/>
<path d="M831.5 210.5V146.5" fill="none" stroke="#008000"/>
<path d="M833.5 210.5V146.5H834.5V210.5Z" fill="#008000" stroke="#008000"/>
<path d="M835.5 210.5V146.5H836.5V210.5Z" fill="#008000" stroke="#008000"/>
<path d="M837.5 210.5V146.5H838.5V210.5Z" fill="#008000" stroke="#008000"/>
<path d="M839.5 140.5V117.5H840.5V140.5Z" fill="#008000" stroke="#008000"/>
<path d="M842.5 140.5V117.5H843.5V140.5Z" fill="#008000" stroke="#008000"/>
<path d="M844.5 140.5V117.5H845.5V140.5Z" fill="#008000" stroke="#008000"/>
<path d="M846.5 140.5V117.5H847.5V140.5Z" fill="#008000" stroke="#008000"/>
<path d="M848.5 140.5V117.5H849.5V140.5Z" fill="#008000" stroke="#008000"/>
<path d="M851.5 140.5V117.5" fill="none" stroke="#008000"/>
<path d="M853.5 111.5V187.5H854.5V111.5Z" fill="#f00" stroke="#f00"/>
<path d="M855.5 111.5V187.5H856.5V111.5Z" fill="#f00" stroke="#f00"/>
<path d="M857.5 111.5V187.5H858.5V111.5Z" fill="#f00" stroke="#f00"/>
<path d="M859.5 111.5V187.5H860.5V111.5Z" fill="#f00" stroke="#f00"/>
<path d="M862.5 111.5V187.5H863.5V111.5Z" fill="#f00" stroke="#f00"/>
<path d="M864.5 181.5V163.5H865.5V181.5Z" fill="#008000" stroke="#008000"/>
<path d="M866.5 181.5V163.5H867.5V181.5Z" fill="#008000" stroke="#008000"/>
<path d="M868.5 181.5V163.5H869.5V181.5Z" fill="#008000" stroke="#008000"/>
<path d="M871.5 181.5V163.5" fill="none" stroke="#008000"/>
<path d="M873.5 163.5V227.5H874.5V163.5Z" fill="#f00" stroke="#f00"/>
<path d="M875.5 163.5V227.5H876.5V163.5Z" fill="#f00" stroke="#f00"/>
<path d="M877.5 163.5V227.5H878.5V163.5Z" fill="#f00" stroke="#f00"/>
<path d="M879.5 233.5V187.5H880.5V233.5Z" fill="#008000" stroke="#008000"/>
<path d="M882.5 233.5V187.5H883.5V233.5Z" fill="#008000" stroke="#008000"/>
<path d="M884.5 181.5V134.5H885.5V181.5Z" fill="#008000" stroke="#008000"/>
</g>
<polyline points="250.791,295.16 253.014,295.418 255.237,295.676 257.46,295.935 259.683,296.193 261.906,296.451 264.129,296.709 266.352,296.967 268.575,296.967 270.798,296.967 273.021,296.967 275.244,296.967 277.467,296.967 279.69,296.967 281.912,296.967 284.135,294.644 286.358,292.321 288.581,289.997 290.804,287.674 293.027,285.351 295.25,283.028 297.473,280.705 299.696,278.381 301.919,276.058 304.142,273.735 306.365,271.412 308.588,269.088 310.811,266.765 313.034,264.442 315.257,262.119 317.48,262.119 319.702,262.119 321.925,262.119 324.148,262.119 326.371,262.119 328.594,262.119 330.817,262.377 333.04,262.635 335.263,262.893 337.486,263.151 339.709,263.409 341.932,263.668 344.155,263.926 346.378,264.184 348.601,264.442 350.824,264.7 353.047,264.958 355.27,265.216 357.493,265.474 359.715,265.733 361.938,265.991 364.161,265.991 366.384,265.991 368.607,265.991 370.83,265.991 373.053,265.991 375.276,266.507 377.499,267.023 379.722,267.54 381.945,268.056 384.168,268.572 386.391,269.088 388.614,269.605 390.837,270.121 393.06,270.637 395.283,271.153 397.505,271.67 399.728,272.186 401.951,272.702 404.174,273.219 406.397,273.735 408.62,273.735 410.843,273.735 413.066,273.735 415.289,273.735 417.512,273.735 419.735,276.187 421.958,278.639 424.181,281.092 426.404,283.544 428.627,285.996 430.85,288.449 433.073,290.901 435.296,293.353 437.518,295.806 439.741,298.258 441.964,300.71 444.187,303.162 446.41,305.615 448.633,308.067 450.856,310.519 453.079,310.519 455.302,310.519 457.525,310.519 459.748,310.519 461.971,310.519 464.194,310.261 466.417,310.003 468.64,309.745 470.863,309.487 473.086,309.229 475.308,308.971 477.531,308.712 479.754,308.454 481.977,308.196 484.2,307.938 486.423,307.68 488.646,307.422 490.869,307.164 493.092,306.905 495.315,306.647 497.538,306.647 499.761,306.647 501.984,306.647 504.207,306.647 506.43,307.809 508.653,308.971 510.876,310.132 513.099,311.294 515.321,312.455 517.544,313.617 519.767,314.779 521.99,315.94 524.213,317.102 526.436,318.263 528.659,319.425 530.882,320.587 533.105,321.748 535.328,322.91 537.551,324.072 539.774,324.072 541.997,324.072 544.22,324.072 546.443,323.168 548.666,322.265 550.889,321.361 553.111,320.458 555.334,319.554 557.557,318.651 559.78,317.747 562.003,316.844 564.226,315.94 566.449,315.037 568.672,314.133 570.895,313.23 573.118,312.326 575.341,311.423 577.564,310.519 579.787,310.519 582.01,310.519 584.233,308.841 586.456,307.164 588.679,305.486 590.901,303.808 593.124,302.13 595.347,300.452 597.57,298.774 599.793,297.096 602.016,295.418 604.239,293.74 606.462,292.063 608.685,290.385 610.908,288.707 613.131,287.029 615.354,285.351 617.577,285.351 619.8,286.384 622.023,287.416 624.246,288.449 626.469,289.481 628.692,290.514 630.914,291.546 633.137,292.579 635.36,293.611 637.583,294.644 639.806,295.676 642.029,296.709 644.252,297.742 646.475,298.774 648.698,299.807 650.921,300.839 653.144,299.936 655.367,299.032 657.59,298.129 659.813,297.225 662.036,296.322 664.259,295.418 666.482,294.515 668.704,293.611 670.927,292.708 673.15,291.804 675.373,290.901 677.596,289.997 679.819,289.094 682.042,288.191 684.265,286.642 686.488,285.996 688.711,285.351 690.934,284.706 693.157,284.06 695.38,283.415 697.603,282.77 699.826,282.124 702.049,281.479 704.272,280.834 706.495,280.188 708.717,279.543 710.94,278.898 713.163,278.51 715.386,278.123 717.609,278.381 719.832,278.639 722.055,278.898 724.278,279.156 726.501,279.414 728.724,279.672 730.947,279.93 733.17,280.188 735.393,280.446 737.616,280.705 739.839,280.317 742.062,279.93 744.285,279.543 746.507,278.898 748.73,278.252 750.953,277.607 753.176,276.962 755.399,276.316 757.622,275.671 759.845,275.026 762.068,274.38 764.291,272.315 766.514,270.25 768.737,268.185 770.96,266.12 773.183,264.7 775.406,263.28 777.629,261.861 779.852,260.441 782.075,259.021 784.298,257.601 786.52,254.891 788.743,252.18 790.966,249.47 793.189,246.76 795.412,244.049 797.635,242.758 799.858,241.468 802.081,240.177 804.304,238.886 806.527,236.821 808.75,234.756 810.973,232.691 813.196,230.626 815.419,228.561 817.642,226.496 819.865,225.721 822.088,224.947 824.31,220.817 826.533,216.687 828.756,212.556 830.979,208.426 833.202,204.296 835.425,200.166 837.648,196.036 839.871,189.453 842.094,182.871 844.317,176.288 846.54,169.706 848.763,163.123 850.986,156.541 853.209,153.572 855.432,150.604 857.655,150.991 859.878,151.378 862.1,151.765 864.323,151.378 866.546,150.991 868.769,150.604 870.992,150.216 873.215,155.637 875.438,161.058 877.661,166.479 879.884,171.384 882.107,176.288 884.33,177.966" fill="none" stroke="#00f" stroke-width="1.099" stroke-linecap="square" stroke-linejoin="round"/>
<polyline points="284.135,294.902 286.358,293.87 288.581,292.837 290.804,291.804 293.027,290.772 295.25,289.739 297.473,288.707 299.696,287.674 301.919,286.513 304.142,285.351 306.365,284.189 308.588,283.028 310.811,281.866 313.034,280.705 315.257,279.543 317.48,278.381 319.702,277.22 321.925,276.058 324.148,274.896 326.371,273.735 328.594,272.573 330.817,271.541 333.04,270.508 335.263,269.476 337.486,268.443 339.709,267.41 341.932,266.378 344.155,265.345 346.378,264.313 348.601,263.28 350.824,263.409 353.047,263.538 355.27,263.668 357.493,263.797 359.715,263.926 361.938,264.055 364.161,264.184 366.384,264.313 368.607,264.442 370.83,264.571 373.053,264.7 375.276,265.087 377.499,265.474 379.722,265.862 381.945,266.249 384.168,266.636 386.391,267.023 388.614,267.41 390.837,267.798 393.06,268.185 395.283,268.572 397.505,268.83 399.728,269.088 401.951,269.347 404.174,269.605 406.397,269.863 408.62,270.121 410.843,270.379 413.066,270.637 415.289,270.895 417.512,271.153 419.735,272.638 421.958,274.122 424.181,275.606 426.404,277.091 428.627,278.575 430.85,280.059 433.073,281.543 435.296,283.028 437.518,284.512 439.741,285.996 441.964,287.223 444.187,288.449 446.41,289.675 448.633,290.901 450.856,292.127 453.079,293.353 455.302,294.579 457.525,295.806 459.748,297.032 461.971,298.258 464.194,299.355 466.417,300.452 468.64,301.549 470.863,302.646 473.086,303.743 475.308,304.84 477.531,305.937 479.754,307.035 481.977,308.132 484.2,309.229 486.423,309.1 488.646,308.971 490.869,308.841 493.092,308.712 495.315,308.583 497.538,308.454 499.761,308.325 501.984,308.196 504.207,308.067 506.43,308.519 508.653,308.971 510.876,309.422 513.099,309.874 515.321,310.326 517.544,310.777 519.767,311.229 521.99,311.681 524.213,312.133 526.436,312.584 528.659,313.036 530.882,313.617 533.105,314.198 535.328,314.779 537.551,315.359 539.774,315.94 541.997,316.521 544.22,317.102 546.443,317.231 548.666,317.36 550.889,317.489 553.111,317.618 555.334,317.747 557.557,317.876 559.78,318.005 562.003,318.134 564.226,318.263 566.449,318.393 568.672,318.522 570.895,318.651 573.118,318.199 575.341,317.747 577.564,317.295 579.787,316.844 582.01,316.392 584.233,315.101 586.456,313.811 588.679,312.52 590.901,311.229 593.124,309.939 595.347,308.648 597.57,307.357 599.793,306.066 602.016,304.776 604.239,303.485 606.462,302.194 608.685,300.904 610.908,299.613 613.131,298.774 615.354,297.935 617.577,297.096 619.8,296.774 622.023,296.451 624.246,296.128 626.469,295.806 628.692,295.483 630.914,295.16 633.137,294.838 635.36,294.515 637.583,294.192 639.806,293.87 642.029,293.547 644.252,293.224 646.475,292.902 648.698,292.579 650.921,293.095 653.144,293.16 655.367,293.224 657.59,293.289 659.813,293.353 662.036,293.418 664.259,293.482 666.482,293.547 668.704,293.611 670.927,293.676 673.15,293.74 675.373,293.805 677.596,293.87 679.819,293.934 682.042,293.999 684.265,293.74 686.488,292.966 688.711,292.192 690.934,291.417 693.157,290.643 695.38,289.868 697.603,289.094 699.826,288.32 702.049,287.545 704.272,286.771 706.495,285.996 708.717,285.222 710.94,284.448 713.163,283.802 715.386,283.157 717.609,282.512 719.832,282.318 722.055,282.124 724.278,281.931 726.501,281.737 728.724,281.543 730.947,281.35 733.17,281.156 735.393,280.963 737.616,280.769 739.839,280.253 742.062,279.737 744.285,279.22 746.507,278.704 748.73,278.188 750.953,277.994 753.176,277.801 755.399,277.607 757.622,277.413 759.845,277.22 762.068,277.026 764.291,276.123 766.514,275.219 768.737,274.316 770.96,273.412 773.183,272.509 775.406,271.605 777.629,270.702 779.852,269.669 782.075,268.637 784.298,267.604 786.52,265.926 788.743,264.248 790.966,262.57 793.189,260.893 795.412,259.215 797.635,257.537 799.858,255.859 802.081,254.181 804.304,252.503 806.527,250.761 808.75,249.018 810.973,247.276 813.196,245.533 815.419,243.791 817.642,242.049 819.865,240.306 822.088,238.564 824.31,235.143 826.533,231.723 828.756,228.303 830.979,225.592 833.202,222.882 835.425,220.171 837.648,217.461 839.871,213.137 842.094,208.813 844.317,204.49 846.54,200.166 848.763,195.842 850.986,191.518 853.209,189.647 855.432,187.775 857.655,185.904 859.878,184.032 862.1,182.161 864.323,179.902 866.546,177.643 868.769,175.385 870.992,173.126 873.215,172.545 875.438,171.964 877.661,171.384 879.884,170.545 882.107,169.706 884.33,167.253" fill="none" stroke="#ffa500" stroke-width="1.099" stroke-linecap="square" stroke-linejoin="round"/>
<polyline points="350.824,279.156 353.047,278.704 355.27,278.252 357.493,277.801 359.715,277.349 361.938,276.897 364.161,276.445 366.384,275.994 368.607,275.477 370.83,274.961 373.053,274.445 375.276,274.058 377.499,273.67 379.722,273.283 381.945,272.896 384.168,272.509 386.391,272.121 388.614,271.734 390.837,271.347 393.06,270.96 395.283,270.573 397.505,270.185 399.728,269.798 401.951,269.411 404.174,269.024 406.397,268.637 408.62,268.249 410.843,267.862 413.066,267.475 415.289,267.088 417.512,267.281 419.735,268.088 421.958,268.895 424.181,269.701 426.404,270.508 428.627,271.315 430.85,272.121 433.073,272.928 435.296,273.735 437.518,274.542 439.741,275.348 441.964,276.155 444.187,276.962 446.41,277.768 448.633,278.575 450.856,279.382 453.079,280.188 455.302,280.995 457.525,281.802 459.748,282.608 461.971,283.415 464.194,284.093 466.417,284.77 468.64,285.448 470.863,286.125 473.086,286.803 475.308,287.481 477.531,288.158 479.754,288.836 481.977,289.513 484.2,290.191 486.423,290.869 488.646,291.546 490.869,292.224 493.092,292.902 495.315,293.579 497.538,294.257 499.761,294.934 501.984,295.612 504.207,296.29 506.43,297.258 508.653,298.097 510.876,298.935 513.099,299.774 515.321,300.613 517.544,301.452 519.767,302.291 521.99,303.13 524.213,303.969 526.436,304.808 528.659,305.647 530.882,306.486 533.105,307.325 535.328,308.164 537.551,309.003 539.774,309.842 541.997,310.681 544.22,311.52 546.443,312.133 548.666,312.746 550.889,313.359 553.111,313.359 555.334,313.359 557.557,313.359 559.78,313.359 562.003,313.359 564.226,313.359 566.449,313.359 568.672,313.359 570.895,313.359 573.118,313.359 575.341,313.359 577.564,313.359 579.787,313.359 582.01,313.359 584.233,312.939 586.456,312.52 588.679,312.1 590.901,311.681 593.124,311.262 595.347,310.842 597.57,310.487 599.793,310.132 602.016,309.777 604.239,309.422 606.462,309.067 608.685,308.712 610.908,308.357 613.131,308.003 615.354,307.648 617.577,307.293 619.8,307.196 622.023,307.099 624.246,307.002 626.469,306.905 628.692,306.809 630.914,306.712 633.137,306.615 635.36,306.518 637.583,306.421 639.806,306.034 642.029,305.647 644.252,305.26 646.475,304.873 648.698,304.485 650.921,304.098 653.144,303.485 655.367,302.872 657.59,302.259 659.813,301.646 662.036,301.033 664.259,300.42 666.482,299.807 668.704,299.194 670.927,298.581 673.15,297.967 675.373,297.354 677.596,296.741 679.819,296.354 682.042,295.967 684.265,295.418 686.488,294.87 688.711,294.321 690.934,293.773 693.157,293.224 695.38,292.676 697.603,292.127 699.826,291.579 702.049,291.03 704.272,290.481 706.495,289.933 708.717,289.384 710.94,288.836 713.163,288.352 715.386,287.868 717.609,287.803 719.832,287.739 722.055,287.674 724.278,287.61 726.501,287.545 728.724,287.481 730.947,287.416 733.17,287.352 735.393,287.287 737.616,287.223 739.839,286.997 742.062,286.771 744.285,286.545 746.507,286.319 748.73,286.093 750.953,285.867 753.176,285.383 755.399,284.899 757.622,284.415 759.845,283.931 762.068,283.447 764.291,282.608 766.514,281.769 768.737,280.93 770.96,280.091 773.183,279.253 775.406,278.414 777.629,277.575 779.852,276.736 782.075,275.897 784.298,275.058 786.52,274.122 788.743,273.186 790.966,272.251 793.189,271.315 795.412,270.379 797.635,269.443 799.858,268.508 802.081,267.572 804.304,266.636 806.527,265.507 808.75,264.377 810.973,263.248 813.196,262.119 815.419,260.989 817.642,260.021 819.865,259.053 822.088,258.085 824.31,256.278 826.533,254.471 828.756,252.664 830.979,250.857 833.202,249.051 835.425,247.244 837.648,245.437 839.871,242.823 842.094,240.209 844.317,237.596 846.54,234.918 848.763,232.239 850.986,229.561 853.209,227.786 855.432,226.012 857.655,224.237 859.878,222.462 862.1,220.688 864.323,218.719 866.546,216.751 868.769,214.783 870.992,212.815 873.215,211.653 875.438,210.491 877.661,209.33 879.884,208.039 882.107,206.748 884.33,204.651" fill="none" stroke="#800080" stroke-width="1.099" stroke-linecap="square" stroke-linejoin="round"/>
</g>
<path d="M184.5 314.5H179.5M184.5 268.5H179.5M184.5 221.5H179.5M184.5 175.5H179.5M184.5 129.5H179.5M184.5 82.5H179.5" fill="none" stroke="#000" stroke-width="1.111"/><path d="M184.5 313.5H179.5M184.5 315.5H179.5M184.5 267.5H179.5M184.5 269.5H179.5M184.5 220.5H179.5M184.5 222.5H179.5M184.5 174.5H179.5M184.5 176.5H179.5M184.5 128.5H179.5M184.5 130.5H179.5M184.5 81.5H179.5M184.5 83.5H179.5" fill="none" stroke="#000" stroke-opacity="0.056" stroke-width="1"/>
<path d="M184.5 357.5V69.5M920.5 357.5V69.5M184.5 357.5H920.5M184.5 69.5H920.5" fill="none" stroke="#000" stroke-width="1.111" stroke-linecap="square"/><path d="M183.944 356.5H921.056M183.944 358.5H921.056M183.944 68.5H921.056M183.944 70.5H921.056" fill="none" stroke="#000" stroke-opacity="0.056" stroke-width="1"/>
</g>
<g font-family="'DejaVu Sans', 'Liberation Sans', sans-serif" fill="#000">
<text font-size="13.889" transform="translate(207.729 517.987) rotate(-45)" x="0 8.75 17.5 22.125 30.875" y="0">00:48</text>
<text font-size="13.889" transform="translate(319.626 517.987) rotate(-45)" x="0 8.75 17.5 22.125 30.875" y="0">00:57</text>
<text font-size="13.889" transform="translate(430.648 517.987) rotate(-45)" x="0 8.75 17.625 22.25 31" y="0">01:03</text>
<text font-size="13.889" transform="translate(541.67 517.987) rotate(-45)" x="0 8.75 17.625 22.25 31.125" y="0">01:12</text>
<text font-size="13.889" transform="translate(652.692 517.987) rotate(-45)" x="0 8.75 17.625 22.25 31" y="0">01:21</text>
<text font-size="13.889" transform="translate(763.464 517.987) rotate(-45)" x="0 8.75 17.625 22.25 31" y="0">01:33</text>
<text font-size="13.889" x="147.875 155.75 164.5" y="442">500</text>
<text font-size="13.889" x="139.875 147.75 156.5 165.25" y="404">1000</text>
<text font-size="13.889" x="139.875 147.75 156.5 165.25" y="366">1500</text>
<text font-size="13.889" transform="translate(129.737 416) rotate(-90)" x="-25 -17.625 -9.125 -5.125 3.625 17.125" y="0">Volume</text>
<text font-size="13.889" x="139 147.75 156.625 165.5" y="320">6712</text>
<text font-size="13.889" x="139 147.75 156.625 165.5" y="273">6714</text>
<text font-size="13.889" x="139 147.75 156.625 165.5" y="227">6716</text>
<text font-size="13.889" x="139 147.75 156.625 165.5" y="180">6718</text>
<text font-size="13.889" x="138.875 147.75 156.5 165.25" y="134">6720</text>
<text font-size="13.889" x="138.875 147.75 156.5 165.25" y="88">6722</text>
<text font-size="13.889" transform="translate(130.862 215.75) rotate(-90)" x="-16.312 -8.938 -3.312 0.438 8.062" y="0">Price</text>
<text font-size="16.9" x="246.875 261.25 271.625 282.125 287.375 298 308.625 314.5 328.875 333.5 344 354.5 361 371.25 376.5 388 398.5 408.625 415.5 422 427.25 433.625 444.25 454.75 465.375 475.875 481.75 492.375 503 508.875 519.5 530 535.25 545.875 556.375 562.125 572.625 583.125 597.125 607.75 618.25 624 634.5 645 651.5 656.75 662.625 667.875 682.25 693.625 698.875 709 719.5 724.75 737.25 746.5 758 763.625" y="16">MES 12-Minute Chart (2025-11-25 15:00~16:00) - MA on HLC/3</text>
</g>
</svg>
</body>
</html>
